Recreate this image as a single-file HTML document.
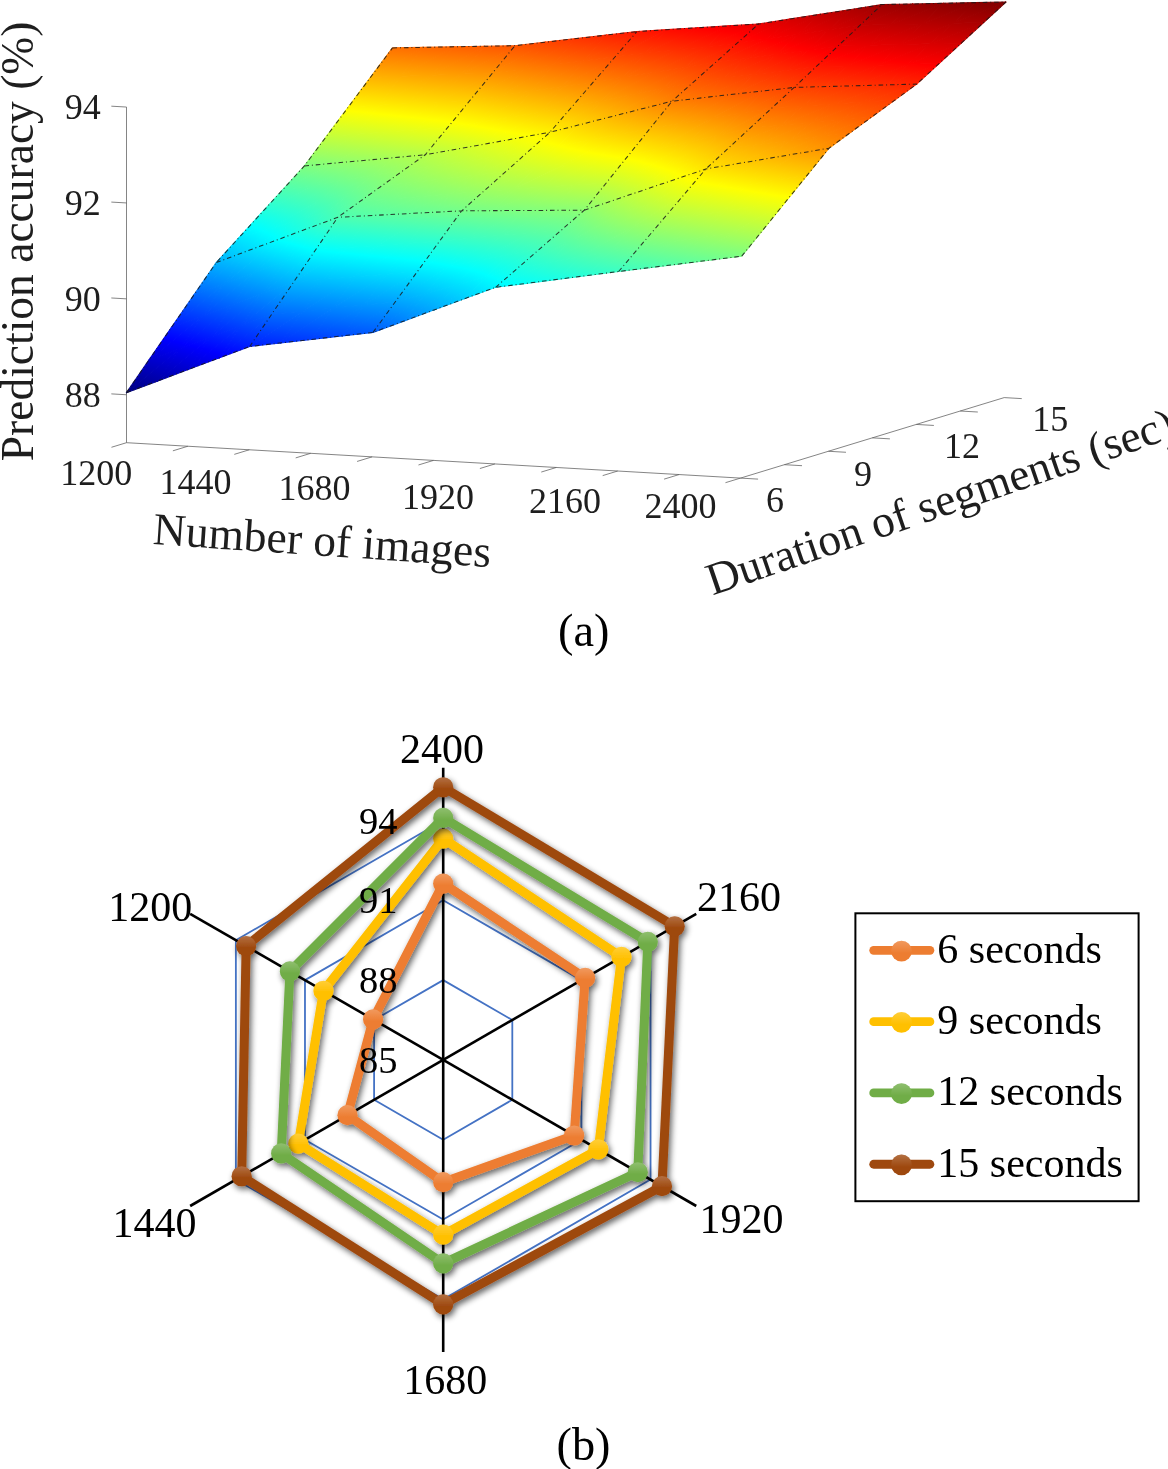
<!DOCTYPE html><html><head><meta charset="utf-8"><style>html,body{margin:0;padding:0;background:#fff;}svg{display:block;will-change:transform;}text{font-family:"Liberation Serif", serif;}</style></head><body>
<domain hidden>Chart</domain>
<svg width="1168" height="1469" viewBox="0 0 1168 1469">
<defs><linearGradient id="J" gradientUnits="userSpaceOnUse"><stop offset="0.0000" stop-color="#000080"/><stop offset="0.1250" stop-color="#0000ff"/><stop offset="0.3750" stop-color="#00ffff"/><stop offset="0.6250" stop-color="#ffff00"/><stop offset="0.8750" stop-color="#ff0000"/><stop offset="1.0000" stop-color="#800000"/></linearGradient><linearGradient id="g1" href="#J" x1="126.4" y1="392.7" x2="257.2" y2="-88.7"/><linearGradient id="g2" href="#J" x1="126.4" y1="392.7" x2="257.2" y2="-88.7"/><linearGradient id="g3" href="#J" x1="139.1" y1="396.1" x2="269.9" y2="-85.3"/><linearGradient id="g4" href="#J" x1="139.1" y1="396.1" x2="269.9" y2="-85.3"/><linearGradient id="g5" href="#J" x1="151.8" y1="399.6" x2="282.6" y2="-81.8"/><linearGradient id="g6" href="#J" x1="151.8" y1="399.6" x2="282.6" y2="-81.8"/><linearGradient id="g7" href="#J" x1="164.5" y1="403.0" x2="295.3" y2="-78.4"/><linearGradient id="g8" href="#J" x1="164.5" y1="403.0" x2="295.3" y2="-78.4"/><linearGradient id="g9" href="#J" x1="152.2" y1="399.7" x2="283.0" y2="-81.7"/><linearGradient id="g10" href="#J" x1="152.2" y1="399.7" x2="283.0" y2="-81.7"/><linearGradient id="g11" href="#J" x1="164.8" y1="403.1" x2="295.6" y2="-78.3"/><linearGradient id="g12" href="#J" x1="164.8" y1="403.1" x2="295.6" y2="-78.3"/><linearGradient id="g13" href="#J" x1="177.4" y1="406.6" x2="308.2" y2="-74.9"/><linearGradient id="g14" href="#J" x1="177.4" y1="406.6" x2="308.2" y2="-74.9"/><linearGradient id="g15" href="#J" x1="190.0" y1="410.0" x2="320.8" y2="-71.5"/><linearGradient id="g16" href="#J" x1="190.0" y1="410.0" x2="320.8" y2="-71.5"/><linearGradient id="g17" href="#J" x1="178.0" y1="406.7" x2="308.8" y2="-74.7"/><linearGradient id="g18" href="#J" x1="178.0" y1="406.7" x2="308.8" y2="-74.7"/><linearGradient id="g19" href="#J" x1="190.5" y1="410.1" x2="321.3" y2="-71.3"/><linearGradient id="g20" href="#J" x1="190.5" y1="410.1" x2="321.3" y2="-71.3"/><linearGradient id="g21" href="#J" x1="203.0" y1="413.5" x2="333.8" y2="-67.9"/><linearGradient id="g22" href="#J" x1="203.0" y1="413.5" x2="333.8" y2="-67.9"/><linearGradient id="g23" href="#J" x1="215.5" y1="416.9" x2="346.3" y2="-64.5"/><linearGradient id="g24" href="#J" x1="215.5" y1="416.9" x2="346.3" y2="-64.5"/><linearGradient id="g25" href="#J" x1="203.7" y1="413.7" x2="334.6" y2="-67.7"/><linearGradient id="g26" href="#J" x1="203.7" y1="413.7" x2="334.6" y2="-67.7"/><linearGradient id="g27" href="#J" x1="216.2" y1="417.1" x2="347.0" y2="-64.4"/><linearGradient id="g28" href="#J" x1="216.2" y1="417.1" x2="347.0" y2="-64.4"/><linearGradient id="g29" href="#J" x1="228.6" y1="420.5" x2="359.4" y2="-61.0"/><linearGradient id="g30" href="#J" x1="228.6" y1="420.5" x2="359.4" y2="-61.0"/><linearGradient id="g31" href="#J" x1="241.0" y1="423.8" x2="371.8" y2="-57.6"/><linearGradient id="g32" href="#J" x1="241.0" y1="423.8" x2="371.8" y2="-57.6"/><linearGradient id="g33" href="#J" x1="240.9" y1="418.6" x2="297.8" y2="-49.3"/><linearGradient id="g34" href="#J" x1="241.6" y1="418.0" x2="294.3" y2="-46.0"/><linearGradient id="g35" href="#J" x1="259.5" y1="420.7" x2="313.1" y2="-45.9"/><linearGradient id="g36" href="#J" x1="260.4" y1="419.8" x2="310.0" y2="-42.9"/><linearGradient id="g37" href="#J" x1="278.5" y1="422.5" x2="328.9" y2="-42.8"/><linearGradient id="g38" href="#J" x1="279.7" y1="421.4" x2="326.2" y2="-40.1"/><linearGradient id="g39" href="#J" x1="298.0" y1="424.2" x2="345.2" y2="-39.8"/><linearGradient id="g40" href="#J" x1="299.4" y1="422.8" x2="343.0" y2="-37.5"/><linearGradient id="g41" href="#J" x1="270.7" y1="422.8" x2="328.7" y2="-48.0"/><linearGradient id="g42" href="#J" x1="271.4" y1="422.1" x2="325.0" y2="-44.5"/><linearGradient id="g43" href="#J" x1="289.4" y1="424.8" x2="343.9" y2="-44.5"/><linearGradient id="g44" href="#J" x1="290.4" y1="423.8" x2="340.7" y2="-41.5"/><linearGradient id="g45" href="#J" x1="308.5" y1="426.7" x2="359.7" y2="-41.3"/><linearGradient id="g46" href="#J" x1="309.8" y1="425.4" x2="357.0" y2="-38.6"/><linearGradient id="g47" href="#J" x1="328.1" y1="428.3" x2="376.1" y2="-38.3"/><linearGradient id="g48" href="#J" x1="329.6" y1="426.8" x2="373.8" y2="-35.9"/><linearGradient id="g49" href="#J" x1="300.4" y1="427.0" x2="359.5" y2="-46.7"/><linearGradient id="g50" href="#J" x1="301.3" y1="426.2" x2="355.8" y2="-43.2"/><linearGradient id="g51" href="#J" x1="319.2" y1="429.0" x2="374.7" y2="-43.2"/><linearGradient id="g52" href="#J" x1="320.3" y1="428.0" x2="371.5" y2="-40.0"/><linearGradient id="g53" href="#J" x1="338.5" y1="430.9" x2="390.6" y2="-39.9"/><linearGradient id="g54" href="#J" x1="339.8" y1="429.5" x2="387.8" y2="-37.1"/><linearGradient id="g55" href="#J" x1="358.2" y1="432.5" x2="407.0" y2="-36.8"/><linearGradient id="g56" href="#J" x1="359.8" y1="430.9" x2="404.6" y2="-34.4"/><linearGradient id="g57" href="#J" x1="330.1" y1="431.3" x2="390.4" y2="-45.4"/><linearGradient id="g58" href="#J" x1="331.1" y1="430.4" x2="386.6" y2="-41.8"/><linearGradient id="g59" href="#J" x1="349.0" y1="433.4" x2="405.6" y2="-41.8"/><linearGradient id="g60" href="#J" x1="350.3" y1="432.2" x2="402.3" y2="-38.6"/><linearGradient id="g61" href="#J" x1="368.4" y1="435.2" x2="421.4" y2="-38.5"/><linearGradient id="g62" href="#J" x1="369.9" y1="433.7" x2="418.6" y2="-35.6"/><linearGradient id="g63" href="#J" x1="388.3" y1="436.9" x2="437.8" y2="-35.3"/><linearGradient id="g64" href="#J" x1="389.9" y1="435.1" x2="435.5" y2="-32.8"/><linearGradient id="g65" href="#J" x1="333.3" y1="444.6" x2="517.7" y2="-76.3"/><linearGradient id="g66" href="#J" x1="349.5" y1="438.2" x2="458.6" y2="-52.9"/><linearGradient id="g67" href="#J" x1="357.6" y1="448.7" x2="489.9" y2="-67.8"/><linearGradient id="g68" href="#J" x1="372.6" y1="439.3" x2="452.1" y2="-44.2"/><linearGradient id="g69" href="#J" x1="384.6" y1="450.2" x2="477.6" y2="-56.4"/><linearGradient id="g70" href="#J" x1="397.6" y1="439.1" x2="453.7" y2="-36.0"/><linearGradient id="g71" href="#J" x1="412.9" y1="449.7" x2="476.1" y2="-45.5"/><linearGradient id="g72" href="#J" x1="423.8" y1="437.6" x2="461.2" y2="-28.8"/><linearGradient id="g73" href="#J" x1="340.9" y1="460.9" x2="588.7" y2="-91.1"/><linearGradient id="g74" href="#J" x1="370.2" y1="451.9" x2="502.4" y2="-64.6"/><linearGradient id="g75" href="#J" x1="372.6" y1="466.5" x2="542.3" y2="-84.9"/><linearGradient id="g76" href="#J" x1="396.6" y1="452.5" x2="489.7" y2="-54.2"/><linearGradient id="g77" href="#J" x1="405.4" y1="467.5" x2="519.2" y2="-71.2"/><linearGradient id="g78" href="#J" x1="424.3" y1="451.2" x2="487.6" y2="-44.0"/><linearGradient id="g79" href="#J" x1="438.1" y1="465.5" x2="511.8" y2="-57.2"/><linearGradient id="g80" href="#J" x1="452.6" y1="448.5" x2="493.0" y2="-35.1"/><linearGradient id="g81" href="#J" x1="327.4" y1="478.7" x2="694.8" y2="-101.6"/><linearGradient id="g82" href="#J" x1="384.9" y1="470.3" x2="554.6" y2="-81.1"/><linearGradient id="g83" href="#J" x1="375.0" y1="491.1" x2="612.3" y2="-109.1"/><linearGradient id="g84" href="#J" x1="417.4" y1="470.0" x2="531.2" y2="-68.7"/><linearGradient id="g85" href="#J" x1="419.7" y1="492.0" x2="568.6" y2="-93.7"/><linearGradient id="g86" href="#J" x1="449.5" y1="467.1" x2="523.2" y2="-55.6"/><linearGradient id="g87" href="#J" x1="460.4" y1="487.4" x2="550.6" y2="-74.9"/><linearGradient id="g88" href="#J" x1="480.9" y1="462.5" x2="525.3" y2="-44.2"/><linearGradient id="g89" href="#J" x1="264.9" y1="473.3" x2="873.4" y2="-58.3"/><linearGradient id="g90" href="#J" x1="386.9" y1="495.9" x2="624.3" y2="-104.4"/><linearGradient id="g91" href="#J" x1="344.4" y1="523.3" x2="726.9" y2="-138.2"/><linearGradient id="g92" href="#J" x1="431.6" y1="495.0" x2="580.4" y2="-90.7"/><linearGradient id="g93" href="#J" x1="418.3" y1="529.8" x2="636.2" y2="-129.7"/><linearGradient id="g94" href="#J" x1="471.7" y1="489.2" x2="561.8" y2="-73.0"/><linearGradient id="g95" href="#J" x1="476.3" y1="520.6" x2="595.8" y2="-103.3"/><linearGradient id="g96" href="#J" x1="508.2" y1="481.2" x2="558.6" y2="-57.4"/><linearGradient id="g97" href="#J" x1="450.8" y1="505.3" x2="573.0" y2="-89.7"/><linearGradient id="g98" href="#J" x1="418.6" y1="528.3" x2="628.7" y2="-129.4"/><linearGradient id="g99" href="#J" x1="450.9" y1="514.1" x2="616.9" y2="-96.8"/><linearGradient id="g100" href="#J" x1="399.6" y1="537.5" x2="692.9" y2="-131.4"/><linearGradient id="g101" href="#J" x1="441.9" y1="522.2" x2="665.2" y2="-100.5"/><linearGradient id="g102" href="#J" x1="362.5" y1="537.1" x2="766.6" y2="-119.6"/><linearGradient id="g103" href="#J" x1="420.4" y1="526.4" x2="718.5" y2="-98.0"/><linearGradient id="g104" href="#J" x1="306.2" y1="512.3" x2="844.4" y2="-82.5"/><linearGradient id="g105" href="#J" x1="486.5" y1="498.9" x2="590.6" y2="-64.0"/><linearGradient id="g106" href="#J" x1="462.8" y1="517.3" x2="628.8" y2="-93.5"/><linearGradient id="g107" href="#J" x1="490.2" y1="506.4" x2="627.6" y2="-68.9"/><linearGradient id="g108" href="#J" x1="453.7" y1="526.5" x2="677.1" y2="-96.2"/><linearGradient id="g109" href="#J" x1="487.0" y1="514.0" x2="666.6" y2="-71.8"/><linearGradient id="g110" href="#J" x1="431.9" y1="531.9" x2="730.0" y2="-92.5"/><linearGradient id="g111" href="#J" x1="474.7" y1="519.9" x2="707.7" y2="-71.4"/><linearGradient id="g112" href="#J" x1="394.1" y1="526.6" x2="786.5" y2="-78.0"/><linearGradient id="g113" href="#J" x1="520.7" y1="494.3" x2="611.8" y2="-43.6"/><linearGradient id="g114" href="#J" x1="502.2" y1="509.3" x2="639.6" y2="-66.1"/><linearGradient id="g115" href="#J" x1="526.7" y1="500.8" x2="644.3" y2="-47.1"/><linearGradient id="g116" href="#J" x1="499.2" y1="517.7" x2="678.7" y2="-68.1"/><linearGradient id="g117" href="#J" x1="527.4" y1="507.6" x2="677.6" y2="-49.0"/><linearGradient id="g118" href="#J" x1="486.8" y1="524.6" x2="719.8" y2="-66.7"/><linearGradient id="g119" href="#J" x1="521.0" y1="513.8" x2="711.4" y2="-48.9"/><linearGradient id="g120" href="#J" x1="462.2" y1="526.5" x2="762.2" y2="-59.9"/><linearGradient id="g121" href="#J" x1="554.0" y1="491.0" x2="635.4" y2="-27.0"/><linearGradient id="g122" href="#J" x1="538.9" y1="503.4" x2="656.5" y2="-44.5"/><linearGradient id="g123" href="#J" x1="561.6" y1="496.7" x2="664.8" y2="-29.4"/><linearGradient id="g124" href="#J" x1="539.7" y1="510.9" x2="689.9" y2="-45.7"/><linearGradient id="g125" href="#J" x1="564.9" y1="502.8" x2="694.2" y2="-30.6"/><linearGradient id="g126" href="#J" x1="533.3" y1="517.9" x2="723.7" y2="-44.8"/><linearGradient id="g127" href="#J" x1="562.4" y1="508.7" x2="723.3" y2="-30.3"/><linearGradient id="g128" href="#J" x1="517.6" y1="522.4" x2="757.5" y2="-40.8"/><linearGradient id="g129" href="#J" x1="584.8" y1="493.7" x2="662.9" y2="-19.9"/><linearGradient id="g130" href="#J" x1="582.2" y1="496.1" x2="666.3" y2="-23.0"/><linearGradient id="g131" href="#J" x1="600.3" y1="497.0" x2="682.5" y2="-18.3"/><linearGradient id="g132" href="#J" x1="597.3" y1="499.7" x2="685.7" y2="-21.1"/><linearGradient id="g133" href="#J" x1="615.3" y1="500.5" x2="701.8" y2="-16.5"/><linearGradient id="g134" href="#J" x1="611.8" y1="503.5" x2="704.8" y2="-19.0"/><linearGradient id="g135" href="#J" x1="629.8" y1="504.1" x2="720.6" y2="-14.4"/><linearGradient id="g136" href="#J" x1="625.7" y1="507.5" x2="723.4" y2="-16.7"/><linearGradient id="g137" href="#J" x1="615.0" y1="496.6" x2="691.6" y2="-13.5"/><linearGradient id="g138" href="#J" x1="612.5" y1="498.9" x2="694.7" y2="-16.3"/><linearGradient id="g139" href="#J" x1="630.6" y1="499.9" x2="711.1" y2="-11.8"/><linearGradient id="g140" href="#J" x1="627.6" y1="502.5" x2="714.0" y2="-14.4"/><linearGradient id="g141" href="#J" x1="645.6" y1="503.3" x2="730.2" y2="-10.0"/><linearGradient id="g142" href="#J" x1="642.1" y1="506.3" x2="732.9" y2="-12.3"/><linearGradient id="g143" href="#J" x1="660.1" y1="506.9" x2="748.9" y2="-7.9"/><linearGradient id="g144" href="#J" x1="656.1" y1="510.2" x2="751.4" y2="-10.0"/><linearGradient id="g145" href="#J" x1="645.3" y1="499.5" x2="720.3" y2="-7.2"/><linearGradient id="g146" href="#J" x1="642.7" y1="501.8" x2="723.2" y2="-9.9"/><linearGradient id="g147" href="#J" x1="660.8" y1="502.7" x2="739.7" y2="-5.5"/><linearGradient id="g148" href="#J" x1="657.9" y1="505.3" x2="742.4" y2="-7.9"/><linearGradient id="g149" href="#J" x1="675.9" y1="506.1" x2="758.7" y2="-3.7"/><linearGradient id="g150" href="#J" x1="672.4" y1="509.0" x2="761.2" y2="-5.8"/><linearGradient id="g151" href="#J" x1="690.4" y1="509.7" x2="777.3" y2="-1.6"/><linearGradient id="g152" href="#J" x1="686.4" y1="512.9" x2="779.6" y2="-3.5"/><linearGradient id="g153" href="#J" x1="675.5" y1="502.3" x2="749.1" y2="-1.2"/><linearGradient id="g154" href="#J" x1="673.0" y1="504.6" x2="751.8" y2="-3.6"/><linearGradient id="g155" href="#J" x1="691.1" y1="505.5" x2="768.4" y2="0.6"/><linearGradient id="g156" href="#J" x1="688.1" y1="508.1" x2="770.9" y2="-1.7"/><linearGradient id="g157" href="#J" x1="706.2" y1="508.8" x2="787.3" y2="2.5"/><linearGradient id="g158" href="#J" x1="702.8" y1="511.8" x2="789.6" y2="0.5"/><linearGradient id="g159" href="#J" x1="720.8" y1="512.4" x2="805.8" y2="4.5"/><linearGradient id="g160" href="#J" x1="716.8" y1="515.6" x2="807.8" y2="2.8"/><linearGradient id="g161" href="#J" x1="104.9" y1="435.0" x2="477.4" y2="-141.8"/><linearGradient id="g162" href="#J" x1="155.4" y1="430.8" x2="359.0" y2="-131.9"/><linearGradient id="g163" href="#J" x1="144.4" y1="447.8" x2="413.2" y2="-151.3"/><linearGradient id="g164" href="#J" x1="186.0" y1="432.6" x2="335.6" y2="-123.1"/><linearGradient id="g165" href="#J" x1="184.4" y1="452.1" x2="374.2" y2="-142.7"/><linearGradient id="g166" href="#J" x1="217.1" y1="431.7" x2="325.2" y2="-112.1"/><linearGradient id="g167" href="#J" x1="223.0" y1="451.3" x2="354.8" y2="-128.6"/><linearGradient id="g168" href="#J" x1="248.0" y1="429.0" x2="324.3" y2="-101.4"/><linearGradient id="g169" href="#J" x1="64.2" y1="438.0" x2="605.9" y2="-116.4"/><linearGradient id="g170" href="#J" x1="156.1" y1="453.0" x2="424.9" y2="-146.0"/><linearGradient id="g171" href="#J" x1="121.8" y1="471.8" x2="507.1" y2="-164.7"/><linearGradient id="g172" href="#J" x1="196.3" y1="455.9" x2="386.1" y2="-138.9"/><linearGradient id="g173" href="#J" x1="180.3" y1="482.9" x2="439.6" y2="-165.1"/><linearGradient id="g174" href="#J" x1="234.6" y1="453.9" x2="366.3" y2="-126.0"/><linearGradient id="g175" href="#J" x1="232.5" y1="481.5" x2="403.0" y2="-149.3"/><linearGradient id="g176" href="#J" x1="270.7" y1="449.0" x2="359.9" y2="-112.7"/><linearGradient id="g177" href="#J" x1="-13.8" y1="373.9" x2="762.3" y2="16.2"/><linearGradient id="g178" href="#J" x1="132.7" y1="478.4" x2="518.0" y2="-158.1"/><linearGradient id="g179" href="#J" x1="47.0" y1="479.2" x2="657.3" y2="-148.6"/><linearGradient id="g180" href="#J" x1="191.9" y1="487.5" x2="451.2" y2="-160.4"/><linearGradient id="g181" href="#J" x1="142.0" y1="522.7" x2="538.7" y2="-192.6"/><linearGradient id="g182" href="#J" x1="244.1" y1="484.7" x2="414.5" y2="-146.2"/><linearGradient id="g183" href="#J" x1="224.5" y1="526.1" x2="466.5" y2="-181.0"/><linearGradient id="g184" href="#J" x1="289.4" y1="476.4" x2="398.7" y2="-129.1"/><linearGradient id="g185" href="#J" x1="-0.1" y1="184.8" x2="745.4" y2="291.0"/><linearGradient id="g186" href="#J" x1="55.6" y1="487.6" x2="666.0" y2="-140.3"/><linearGradient id="g187" href="#J" x1="-89.9" y1="358.7" x2="853.2" y2="26.1"/><linearGradient id="g188" href="#J" x1="153.0" y1="528.8" x2="549.7" y2="-186.5"/><linearGradient id="g189" href="#J" x1="12.5" y1="544.2" x2="723.3" y2="-192.7"/><linearGradient id="g190" href="#J" x1="235.9" y1="530.0" x2="477.9" y2="-177.1"/><linearGradient id="g191" href="#J" x1="168.4" y1="593.8" x2="571.0" y2="-229.2"/><linearGradient id="g192" href="#J" x1="300.2" y1="516.6" x2="443.6" y2="-154.6"/><linearGradient id="g193" href="#J" x1="283.9" y1="528.4" x2="403.6" y2="-162.4"/><linearGradient id="g194" href="#J" x1="250.9" y1="563.9" x2="443.8" y2="-205.7"/><linearGradient id="g195" href="#J" x1="284.0" y1="541.6" x2="442.8" y2="-172.3"/><linearGradient id="g196" href="#J" x1="235.7" y1="581.2" x2="496.0" y2="-215.9"/><linearGradient id="g197" href="#J" x1="277.0" y1="555.7" x2="485.2" y2="-180.7"/><linearGradient id="g198" href="#J" x1="206.7" y1="596.6" x2="555.0" y2="-221.3"/><linearGradient id="g199" href="#J" x1="260.3" y1="569.3" x2="531.3" y2="-186.5"/><linearGradient id="g200" href="#J" x1="159.6" y1="604.2" x2="621.4" y2="-217.7"/><linearGradient id="g201" href="#J" x1="320.8" y1="515.9" x2="425.0" y2="-136.4"/><linearGradient id="g202" href="#J" x1="295.7" y1="544.2" x2="454.5" y2="-169.7"/><linearGradient id="g203" href="#J" x1="324.6" y1="527.0" x2="459.8" y2="-143.8"/><linearGradient id="g204" href="#J" x1="288.9" y1="559.0" x2="497.1" y2="-177.3"/><linearGradient id="g205" href="#J" x1="322.9" y1="539.1" x2="496.2" y2="-150.0"/><linearGradient id="g206" href="#J" x1="272.3" y1="573.6" x2="543.3" y2="-182.2"/><linearGradient id="g207" href="#J" x1="314.1" y1="551.5" x2="534.4" y2="-154.6"/><linearGradient id="g208" href="#J" x1="243.1" y1="585.2" x2="593.4" y2="-182.6"/><linearGradient id="g209" href="#J" x1="356.2" y1="506.1" x2="448.8" y2="-115.3"/><linearGradient id="g210" href="#J" x1="336.2" y1="529.3" x2="471.4" y2="-141.4"/><linearGradient id="g211" href="#J" x1="362.6" y1="515.7" x2="480.5" y2="-120.8"/><linearGradient id="g212" href="#J" x1="334.8" y1="542.1" x2="508.0" y2="-147.0"/><linearGradient id="g213" href="#J" x1="364.6" y1="526.2" x2="512.9" y2="-125.4"/><linearGradient id="g214" href="#J" x1="326.2" y1="555.3" x2="546.5" y2="-150.8"/><linearGradient id="g215" href="#J" x1="361.0" y1="537.3" x2="546.2" y2="-128.7"/><linearGradient id="g216" href="#J" x1="308.3" y1="567.4" x2="586.8" y2="-151.8"/><linearGradient id="g217" href="#J" x1="390.6" y1="498.5" x2="474.2" y2="-97.7"/><linearGradient id="g218" href="#J" x1="374.1" y1="517.8" x2="492.1" y2="-118.7"/><linearGradient id="g219" href="#J" x1="398.8" y1="506.8" x2="503.7" y2="-101.8"/><linearGradient id="g220" href="#J" x1="376.4" y1="528.9" x2="524.8" y2="-122.7"/><linearGradient id="g221" href="#J" x1="403.4" y1="516.1" x2="533.3" y2="-105.1"/><linearGradient id="g222" href="#J" x1="373.1" y1="540.7" x2="558.3" y2="-125.3"/><linearGradient id="g223" href="#J" x1="403.6" y1="526.1" x2="563.2" y2="-107.4"/><linearGradient id="g224" href="#J" x1="362.7" y1="552.3" x2="592.4" y2="-126.2"/><linearGradient id="g225" href="#J" x1="436.3" y1="478.1" x2="488.1" y2="-67.8"/><linearGradient id="g226" href="#J" x1="415.7" y1="505.8" x2="509.7" y2="-96.7"/><linearGradient id="g227" href="#J" x1="442.1" y1="487.9" x2="521.1" y2="-75.1"/><linearGradient id="g228" href="#J" x1="408.3" y1="521.7" x2="551.4" y2="-105.4"/><linearGradient id="g229" href="#J" x1="441.0" y1="499.4" x2="555.8" y2="-81.4"/><linearGradient id="g230" href="#J" x1="385.9" y1="537.7" x2="598.4" y2="-111.0"/><linearGradient id="g231" href="#J" x1="430.0" y1="511.5" x2="592.6" y2="-86.0"/><linearGradient id="g232" href="#J" x1="340.9" y1="547.4" x2="651.6" y2="-109.8"/><linearGradient id="g233" href="#J" x1="469.1" y1="468.6" x2="516.1" y2="-52.3"/><linearGradient id="g234" href="#J" x1="453.2" y1="489.5" x2="532.3" y2="-73.5"/><linearGradient id="g235" href="#J" x1="477.3" y1="476.4" x2="546.2" y2="-57.5"/><linearGradient id="g236" href="#J" x1="452.6" y1="501.7" x2="567.4" y2="-79.2"/><linearGradient id="g237" href="#J" x1="480.3" y1="485.6" x2="576.9" y2="-61.7"/><linearGradient id="g238" href="#J" x1="441.9" y1="514.7" x2="604.5" y2="-82.8"/><linearGradient id="g239" href="#J" x1="476.1" y1="495.5" x2="608.0" y2="-64.6"/><linearGradient id="g240" href="#J" x1="416.9" y1="525.9" x2="643.7" y2="-82.9"/><linearGradient id="g241" href="#J" x1="501.2" y1="461.7" x2="544.7" y2="-39.9"/><linearGradient id="g242" href="#J" x1="488.5" y1="477.9" x2="557.4" y2="-56.1"/><linearGradient id="g243" href="#J" x1="511.1" y1="468.1" x2="572.8" y2="-43.6"/><linearGradient id="g244" href="#J" x1="491.9" y1="487.6" x2="588.5" y2="-59.7"/><linearGradient id="g245" href="#J" x1="516.8" y1="475.6" x2="600.8" y2="-46.4"/><linearGradient id="g246" href="#J" x1="488.1" y1="498.3" x2="620.1" y2="-61.8"/><linearGradient id="g247" href="#J" x1="516.9" y1="483.9" x2="628.5" y2="-48.1"/><linearGradient id="g248" href="#J" x1="474.3" y1="508.6" x2="651.8" y2="-61.7"/><linearGradient id="g249" href="#J" x1="533.0" y1="456.4" x2="573.8" y2="-29.6"/><linearGradient id="g250" href="#J" x1="522.4" y1="469.4" x2="584.1" y2="-42.2"/><linearGradient id="g251" href="#J" x1="544.1" y1="461.8" x2="600.3" y2="-32.2"/><linearGradient id="g252" href="#J" x1="528.6" y1="477.5" x2="612.5" y2="-44.5"/><linearGradient id="g253" href="#J" x1="551.6" y1="468.1" x2="626.4" y2="-34.1"/><linearGradient id="g254" href="#J" x1="529.1" y1="486.4" x2="640.6" y2="-45.6"/><linearGradient id="g255" href="#J" x1="554.6" y1="475.2" x2="651.8" y2="-35.0"/><linearGradient id="g256" href="#J" x1="522.0" y1="495.5" x2="668.0" y2="-45.1"/><linearGradient id="g257" href="#J" x1="480.6" y1="488.4" x2="683.1" y2="-55.1"/><linearGradient id="g258" href="#J" x1="513.5" y1="476.3" x2="651.8" y2="-43.5"/><linearGradient id="g259" href="#J" x1="514.2" y1="491.9" x2="675.3" y2="-48.9"/><linearGradient id="g260" href="#J" x1="542.7" y1="476.7" x2="653.9" y2="-37.5"/><linearGradient id="g261" href="#J" x1="547.9" y1="492.8" x2="675.1" y2="-41.6"/><linearGradient id="g262" href="#J" x1="572.3" y1="475.7" x2="660.9" y2="-31.7"/><linearGradient id="g263" href="#J" x1="581.4" y1="491.6" x2="680.9" y2="-34.6"/><linearGradient id="g264" href="#J" x1="602.1" y1="473.6" x2="671.6" y2="-26.5"/><linearGradient id="g265" href="#J" x1="479.0" y1="509.9" x2="727.1" y2="-57.0"/><linearGradient id="g266" href="#J" x1="526.6" y1="495.6" x2="687.7" y2="-45.2"/><linearGradient id="g267" href="#J" x1="520.5" y1="515.1" x2="713.7" y2="-51.6"/><linearGradient id="g268" href="#J" x1="560.2" y1="495.7" x2="687.4" y2="-38.7"/><linearGradient id="g269" href="#J" x1="560.7" y1="515.9" x2="710.0" y2="-43.9"/><linearGradient id="g270" href="#J" x1="593.4" y1="493.9" x2="692.9" y2="-32.3"/><linearGradient id="g271" href="#J" x1="599.4" y1="513.7" x2="713.7" y2="-36.0"/><linearGradient id="g272" href="#J" x1="626.1" y1="490.6" x2="702.8" y2="-26.6"/><linearGradient id="g273" href="#J" x1="460.4" y1="533.6" x2="777.8" y2="-57.7"/><linearGradient id="g274" href="#J" x1="532.7" y1="519.3" x2="725.9" y2="-47.4"/><linearGradient id="g275" href="#J" x1="514.9" y1="543.5" x2="756.0" y2="-54.9"/><linearGradient id="g276" href="#J" x1="572.8" y1="519.1" x2="722.1" y2="-40.6"/><linearGradient id="g277" href="#J" x1="565.7" y1="545.0" x2="746.9" y2="-47.1"/><linearGradient id="g278" href="#J" x1="611.3" y1="516.2" x2="725.5" y2="-33.5"/><linearGradient id="g279" href="#J" x1="612.5" y1="541.6" x2="747.5" y2="-38.3"/><linearGradient id="g280" href="#J" x1="648.1" y1="511.3" x2="734.3" y2="-27.1"/><linearGradient id="g281" href="#J" x1="411.6" y1="553.4" x2="839.5" y2="-53.2"/><linearGradient id="g282" href="#J" x1="526.8" y1="548.3" x2="767.8" y2="-50.1"/><linearGradient id="g283" href="#J" x1="487.7" y1="577.1" x2="805.0" y2="-58.0"/><linearGradient id="g284" href="#J" x1="577.7" y1="548.7" x2="758.9" y2="-43.4"/><linearGradient id="g285" href="#J" x1="556.8" y1="582.5" x2="787.4" y2="-51.4"/><linearGradient id="g286" href="#J" x1="624.3" y1="544.3" x2="759.2" y2="-35.5"/><linearGradient id="g287" href="#J" x1="617.2" y1="578.0" x2="783.0" y2="-41.8"/><linearGradient id="g288" href="#J" x1="667.2" y1="537.3" x2="766.3" y2="-28.2"/><linearGradient id="g289" href="#J" x1="580.7" y1="593.4" x2="772.7" y2="-58.0"/><linearGradient id="g290" href="#J" x1="619.2" y1="565.0" x2="752.1" y2="-42.8"/><linearGradient id="g291" href="#J" x1="622.4" y1="589.5" x2="775.0" y2="-48.4"/><linearGradient id="g292" href="#J" x1="654.2" y1="560.3" x2="760.8" y2="-35.3"/><linearGradient id="g293" href="#J" x1="662.0" y1="583.7" x2="782.4" y2="-39.6"/><linearGradient id="g294" href="#J" x1="688.3" y1="554.6" x2="772.7" y2="-28.9"/><linearGradient id="g295" href="#J" x1="699.8" y1="576.6" x2="793.6" y2="-31.9"/><linearGradient id="g296" href="#J" x1="721.4" y1="548.1" x2="787.2" y2="-23.4"/><linearGradient id="g297" href="#J" x1="581.5" y1="627.9" x2="812.4" y2="-63.0"/><linearGradient id="g298" href="#J" x1="634.0" y1="592.3" x2="786.7" y2="-45.6"/><linearGradient id="g299" href="#J" x1="631.3" y1="622.8" x2="811.1" y2="-52.6"/><linearGradient id="g300" href="#J" x1="673.4" y1="585.9" x2="793.8" y2="-37.4"/><linearGradient id="g301" href="#J" x1="677.2" y1="614.8" x2="816.2" y2="-42.7"/><linearGradient id="g302" href="#J" x1="710.8" y1="578.3" x2="804.7" y2="-30.2"/><linearGradient id="g303" href="#J" x1="719.8" y1="605.3" x2="826.0" y2="-34.1"/><linearGradient id="g304" href="#J" x1="746.7" y1="569.9" x2="818.5" y2="-24.2"/><linearGradient id="g305" href="#J" x1="568.2" y1="670.6" x2="856.1" y2="-69.4"/><linearGradient id="g306" href="#J" x1="643.0" y1="625.9" x2="822.8" y2="-49.5"/><linearGradient id="g307" href="#J" x1="630.7" y1="664.6" x2="849.5" y2="-58.2"/><linearGradient id="g308" href="#J" x1="688.6" y1="617.2" x2="827.6" y2="-40.3"/><linearGradient id="g309" href="#J" x1="686.3" y1="653.9" x2="851.3" y2="-47.1"/><linearGradient id="g310" href="#J" x1="730.9" y1="607.1" x2="837.1" y2="-32.2"/><linearGradient id="g311" href="#J" x1="736.1" y1="640.9" x2="859.0" y2="-37.3"/><linearGradient id="g312" href="#J" x1="770.5" y1="596.1" x2="850.0" y2="-25.5"/><linearGradient id="g313" href="#J" x1="529.6" y1="723.1" x2="906.8" y2="-76.9"/><linearGradient id="g314" href="#J" x1="642.4" y1="668.1" x2="861.2" y2="-54.7"/><linearGradient id="g315" href="#J" x1="613.8" y1="718.3" x2="891.8" y2="-65.9"/><linearGradient id="g316" href="#J" x1="697.7" y1="656.6" x2="862.7" y2="-44.5"/><linearGradient id="g317" href="#J" x1="685.3" y1="704.5" x2="888.4" y2="-53.4"/><linearGradient id="g318" href="#J" x1="747.2" y1="642.9" x2="870.1" y2="-35.2"/><linearGradient id="g319" href="#J" x1="746.4" y1="686.7" x2="893.1" y2="-41.9"/><linearGradient id="g320" href="#J" x1="792.1" y1="628.3" x2="881.8" y2="-27.5"/><linearGradient id="g321" href="#J" x1="274.7" y1="408.7" x2="334.0" y2="-76.0"/><linearGradient id="g322" href="#J" x1="277.7" y1="405.6" x2="331.0" y2="-72.9"/><linearGradient id="g323" href="#J" x1="295.5" y1="410.0" x2="350.0" y2="-72.6"/><linearGradient id="g324" href="#J" x1="298.7" y1="406.6" x2="347.6" y2="-70.0"/><linearGradient id="g325" href="#J" x1="316.9" y1="410.9" x2="366.8" y2="-69.5"/><linearGradient id="g326" href="#J" x1="320.1" y1="407.3" x2="364.9" y2="-67.3"/><linearGradient id="g327" href="#J" x1="338.6" y1="411.7" x2="384.2" y2="-66.7"/><linearGradient id="g328" href="#J" x1="341.9" y1="407.7" x2="382.8" y2="-65.0"/><linearGradient id="g329" href="#J" x1="303.3" y1="414.6" x2="364.2" y2="-74.5"/><linearGradient id="g330" href="#J" x1="306.6" y1="411.2" x2="361.1" y2="-71.3"/><linearGradient id="g331" href="#J" x1="324.5" y1="415.8" x2="380.2" y2="-71.0"/><linearGradient id="g332" href="#J" x1="327.9" y1="412.1" x2="377.8" y2="-68.3"/><linearGradient id="g333" href="#J" x1="346.1" y1="416.7" x2="397.1" y2="-67.8"/><linearGradient id="g334" href="#J" x1="349.5" y1="412.7" x2="395.2" y2="-65.6"/><linearGradient id="g335" href="#J" x1="368.1" y1="417.3" x2="414.6" y2="-64.9"/><linearGradient id="g336" href="#J" x1="371.6" y1="413.1" x2="413.2" y2="-63.2"/><linearGradient id="g337" href="#J" x1="331.9" y1="420.7" x2="394.3" y2="-73.0"/><linearGradient id="g338" href="#J" x1="335.4" y1="417.0" x2="391.2" y2="-69.8"/><linearGradient id="g339" href="#J" x1="353.3" y1="421.8" x2="410.5" y2="-69.5"/><linearGradient id="g340" href="#J" x1="356.9" y1="417.8" x2="408.0" y2="-66.7"/><linearGradient id="g341" href="#J" x1="375.2" y1="422.6" x2="427.4" y2="-66.2"/><linearGradient id="g342" href="#J" x1="378.9" y1="418.4" x2="425.4" y2="-63.9"/><linearGradient id="g343" href="#J" x1="397.5" y1="423.2" x2="445.0" y2="-63.2"/><linearGradient id="g344" href="#J" x1="401.3" y1="418.6" x2="443.5" y2="-61.4"/><linearGradient id="g345" href="#J" x1="360.3" y1="427.1" x2="424.5" y2="-71.6"/><linearGradient id="g346" href="#J" x1="364.1" y1="423.1" x2="421.3" y2="-68.2"/><linearGradient id="g347" href="#J" x1="382.0" y1="428.1" x2="440.7" y2="-67.9"/><linearGradient id="g348" href="#J" x1="385.9" y1="423.8" x2="438.1" y2="-65.0"/><linearGradient id="g349" href="#J" x1="404.3" y1="428.9" x2="457.7" y2="-64.5"/><linearGradient id="g350" href="#J" x1="408.2" y1="424.2" x2="455.7" y2="-62.2"/><linearGradient id="g351" href="#J" x1="426.9" y1="429.3" x2="475.4" y2="-61.5"/><linearGradient id="g352" href="#J" x1="430.9" y1="424.4" x2="473.9" y2="-59.6"/><linearGradient id="g353" href="#J" x1="372.5" y1="439.7" x2="467.7" y2="-75.0"/><linearGradient id="g354" href="#J" x1="377.2" y1="436.0" x2="463.9" y2="-72.0"/><linearGradient id="g355" href="#J" x1="392.9" y1="441.8" x2="482.2" y2="-70.8"/><linearGradient id="g356" href="#J" x1="397.8" y1="437.7" x2="479.1" y2="-68.2"/><linearGradient id="g357" href="#J" x1="413.8" y1="443.6" x2="497.5" y2="-66.9"/><linearGradient id="g358" href="#J" x1="418.8" y1="439.1" x2="495.0" y2="-64.7"/><linearGradient id="g359" href="#J" x1="435.2" y1="445.1" x2="513.5" y2="-63.2"/><linearGradient id="g360" href="#J" x1="440.4" y1="440.3" x2="511.6" y2="-61.4"/><linearGradient id="g361" href="#J" x1="399.9" y1="448.0" x2="498.1" y2="-71.7"/><linearGradient id="g362" href="#J" x1="405.0" y1="443.9" x2="494.3" y2="-68.7"/><linearGradient id="g363" href="#J" x1="420.4" y1="450.0" x2="512.5" y2="-67.5"/><linearGradient id="g364" href="#J" x1="425.7" y1="445.5" x2="509.4" y2="-64.9"/><linearGradient id="g365" href="#J" x1="441.4" y1="451.8" x2="527.6" y2="-63.6"/><linearGradient id="g366" href="#J" x1="446.8" y1="446.9" x2="525.1" y2="-61.4"/><linearGradient id="g367" href="#J" x1="462.9" y1="453.2" x2="543.4" y2="-59.9"/><linearGradient id="g368" href="#J" x1="468.5" y1="448.0" x2="541.6" y2="-58.1"/><linearGradient id="g369" href="#J" x1="427.0" y1="456.7" x2="528.5" y2="-68.4"/><linearGradient id="g370" href="#J" x1="432.6" y1="452.2" x2="524.7" y2="-65.4"/><linearGradient id="g371" href="#J" x1="447.6" y1="458.6" x2="542.7" y2="-64.2"/><linearGradient id="g372" href="#J" x1="453.4" y1="453.8" x2="539.6" y2="-61.6"/><linearGradient id="g373" href="#J" x1="468.7" y1="460.3" x2="557.6" y2="-60.2"/><linearGradient id="g374" href="#J" x1="474.7" y1="455.1" x2="555.2" y2="-58.0"/><linearGradient id="g375" href="#J" x1="490.4" y1="461.7" x2="573.3" y2="-56.5"/><linearGradient id="g376" href="#J" x1="496.4" y1="456.0" x2="571.5" y2="-54.7"/><linearGradient id="g377" href="#J" x1="453.7" y1="465.8" x2="558.9" y2="-65.0"/><linearGradient id="g378" href="#J" x1="460.0" y1="460.9" x2="555.1" y2="-61.9"/><linearGradient id="g379" href="#J" x1="474.5" y1="467.7" x2="572.9" y2="-60.7"/><linearGradient id="g380" href="#J" x1="480.9" y1="462.4" x2="569.8" y2="-58.1"/><linearGradient id="g381" href="#J" x1="495.8" y1="469.3" x2="587.6" y2="-56.7"/><linearGradient id="g382" href="#J" x1="502.3" y1="463.6" x2="585.2" y2="-54.6"/><linearGradient id="g383" href="#J" x1="517.6" y1="470.6" x2="603.1" y2="-52.9"/><linearGradient id="g384" href="#J" x1="524.1" y1="464.5" x2="601.3" y2="-51.3"/><linearGradient id="g385" href="#J" x1="441.1" y1="492.6" x2="611.3" y2="-71.1"/><linearGradient id="g386" href="#J" x1="473.3" y1="474.4" x2="593.1" y2="-60.8"/><linearGradient id="g387" href="#J" x1="477.1" y1="492.7" x2="613.6" y2="-64.0"/><linearGradient id="g388" href="#J" x1="504.6" y1="472.7" x2="601.4" y2="-55.1"/><linearGradient id="g389" href="#J" x1="512.4" y1="490.7" x2="621.0" y2="-57.2"/><linearGradient id="g390" href="#J" x1="535.8" y1="469.9" x2="613.1" y2="-50.1"/><linearGradient id="g391" href="#J" x1="547.0" y1="487.2" x2="632.3" y2="-51.1"/><linearGradient id="g392" href="#J" x1="566.7" y1="466.1" x2="627.4" y2="-45.9"/><linearGradient id="g393" href="#J" x1="445.4" y1="518.5" x2="647.9" y2="-72.4"/><linearGradient id="g394" href="#J" x1="489.4" y1="495.7" x2="625.9" y2="-61.0"/><linearGradient id="g395" href="#J" x1="488.0" y1="518.4" x2="647.4" y2="-64.8"/><linearGradient id="g396" href="#J" x1="524.4" y1="493.1" x2="633.0" y2="-54.8"/><linearGradient id="g397" href="#J" x1="528.7" y1="515.3" x2="653.1" y2="-57.4"/><linearGradient id="g398" href="#J" x1="558.6" y1="489.0" x2="644.0" y2="-49.3"/><linearGradient id="g399" href="#J" x1="567.5" y1="510.2" x2="663.4" y2="-50.7"/><linearGradient id="g400" href="#J" x1="592.0" y1="483.9" x2="657.9" y2="-44.7"/><linearGradient id="g401" href="#J" x1="437.8" y1="549.8" x2="687.2" y2="-73.9"/><linearGradient id="g402" href="#J" x1="500.3" y1="521.7" x2="659.7" y2="-61.5"/><linearGradient id="g403" href="#J" x1="490.8" y1="550.3" x2="682.7" y2="-66.2"/><linearGradient id="g404" href="#J" x1="540.7" y1="517.9" x2="665.1" y2="-54.7"/><linearGradient id="g405" href="#J" x1="539.7" y1="546.0" x2="685.9" y2="-58.0"/><linearGradient id="g406" href="#J" x1="579.2" y1="512.2" x2="675.1" y2="-48.7"/><linearGradient id="g407" href="#J" x1="584.8" y1="538.8" x2="694.9" y2="-50.6"/><linearGradient id="g408" href="#J" x1="615.9" y1="505.3" x2="688.5" y2="-43.7"/><linearGradient id="g409" href="#J" x1="409.3" y1="587.0" x2="730.9" y2="-75.1"/><linearGradient id="g410" href="#J" x1="503.0" y1="554.1" x2="694.8" y2="-62.4"/><linearGradient id="g411" href="#J" x1="479.6" y1="590.7" x2="720.3" y2="-68.1"/><linearGradient id="g412" href="#J" x1="551.6" y1="548.9" x2="697.9" y2="-55.1"/><linearGradient id="g413" href="#J" x1="541.7" y1="585.4" x2="719.9" y2="-59.3"/><linearGradient id="g414" href="#J" x1="596.4" y1="540.9" x2="706.5" y2="-48.4"/><linearGradient id="g415" href="#J" x1="596.6" y1="575.3" x2="726.8" y2="-51.0"/><linearGradient id="g416" href="#J" x1="637.9" y1="531.4" x2="719.2" y2="-42.9"/><linearGradient id="g417" href="#J" x1="576.9" y1="564.3" x2="703.8" y2="-53.5"/><linearGradient id="g418" href="#J" x1="565.4" y1="574.6" x2="707.6" y2="-56.9"/><linearGradient id="g419" href="#J" x1="586.6" y1="570.8" x2="722.8" y2="-51.1"/><linearGradient id="g420" href="#J" x1="573.7" y1="581.6" x2="726.3" y2="-54.1"/><linearGradient id="g421" href="#J" x1="595.3" y1="577.4" x2="741.2" y2="-48.5"/><linearGradient id="g422" href="#J" x1="580.7" y1="588.9" x2="744.4" y2="-51.0"/><linearGradient id="g423" href="#J" x1="602.7" y1="584.3" x2="759.0" y2="-45.6"/><linearGradient id="g424" href="#J" x1="586.3" y1="596.3" x2="761.7" y2="-47.5"/><linearGradient id="g425" href="#J" x1="609.3" y1="563.5" x2="731.2" y2="-45.5"/><linearGradient id="g426" href="#J" x1="598.4" y1="573.4" x2="734.6" y2="-48.6"/><linearGradient id="g427" href="#J" x1="619.4" y1="569.8" x2="750.1" y2="-43.1"/><linearGradient id="g428" href="#J" x1="607.2" y1="580.2" x2="753.1" y2="-45.7"/><linearGradient id="g429" href="#J" x1="628.6" y1="576.3" x2="768.4" y2="-40.5"/><linearGradient id="g430" href="#J" x1="614.8" y1="587.3" x2="771.0" y2="-42.6"/><linearGradient id="g431" href="#J" x1="636.6" y1="583.0" x2="786.1" y2="-37.5"/><linearGradient id="g432" href="#J" x1="621.1" y1="594.6" x2="788.3" y2="-39.1"/><linearGradient id="g433" href="#J" x1="641.5" y1="562.9" x2="759.0" y2="-38.0"/><linearGradient id="g434" href="#J" x1="631.2" y1="572.3" x2="761.9" y2="-40.6"/><linearGradient id="g435" href="#J" x1="652.1" y1="569.0" x2="777.7" y2="-35.5"/><linearGradient id="g436" href="#J" x1="640.5" y1="579.0" x2="780.3" y2="-37.8"/><linearGradient id="g437" href="#J" x1="661.6" y1="575.3" x2="795.9" y2="-32.8"/><linearGradient id="g438" href="#J" x1="648.6" y1="585.9" x2="798.1" y2="-34.6"/><linearGradient id="g439" href="#J" x1="670.1" y1="581.9" x2="813.5" y2="-29.8"/><linearGradient id="g440" href="#J" x1="655.5" y1="593.0" x2="815.2" y2="-31.1"/><linearGradient id="g441" href="#J" x1="673.6" y1="562.3" x2="786.9" y2="-30.8"/><linearGradient id="g442" href="#J" x1="663.8" y1="571.4" x2="789.4" y2="-33.1"/><linearGradient id="g443" href="#J" x1="684.5" y1="568.3" x2="805.5" y2="-28.3"/><linearGradient id="g444" href="#J" x1="673.5" y1="578.0" x2="807.7" y2="-30.2"/><linearGradient id="g445" href="#J" x1="694.5" y1="574.5" x2="823.7" y2="-25.5"/><linearGradient id="g446" href="#J" x1="682.1" y1="584.7" x2="825.4" y2="-27.0"/><linearGradient id="g447" href="#J" x1="703.4" y1="581.0" x2="841.1" y2="-22.5"/><linearGradient id="g448" href="#J" x1="689.6" y1="591.7" x2="842.5" y2="-23.5"/><linearGradient id="g449" href="#J" x1="742.0" y1="546.3" x2="806.4" y2="-20.2"/><linearGradient id="g450" href="#J" x1="742.9" y1="545.0" x2="806.2" y2="-19.9"/><linearGradient id="g451" href="#J" x1="762.1" y1="548.1" x2="825.6" y2="-17.9"/><linearGradient id="g452" href="#J" x1="763.1" y1="546.6" x2="825.4" y2="-17.6"/><linearGradient id="g453" href="#J" x1="782.2" y1="549.7" x2="844.9" y2="-15.6"/><linearGradient id="g454" href="#J" x1="783.2" y1="548.3" x2="844.8" y2="-15.4"/><linearGradient id="g455" href="#J" x1="802.4" y1="551.4" x2="864.2" y2="-13.4"/><linearGradient id="g456" href="#J" x1="803.5" y1="549.8" x2="864.1" y2="-13.3"/><linearGradient id="g457" href="#J" x1="771.9" y1="550.7" x2="836.6" y2="-17.0"/><linearGradient id="g458" href="#J" x1="772.9" y1="549.3" x2="836.4" y2="-16.7"/><linearGradient id="g459" href="#J" x1="792.1" y1="552.4" x2="855.9" y2="-14.6"/><linearGradient id="g460" href="#J" x1="793.1" y1="550.9" x2="855.7" y2="-14.4"/><linearGradient id="g461" href="#J" x1="812.3" y1="554.1" x2="875.3" y2="-12.4"/><linearGradient id="g462" href="#J" x1="813.4" y1="552.6" x2="875.1" y2="-12.2"/><linearGradient id="g463" href="#J" x1="832.7" y1="555.7" x2="894.7" y2="-10.1"/><linearGradient id="g464" href="#J" x1="833.7" y1="554.1" x2="894.6" y2="-10.0"/><linearGradient id="g465" href="#J" x1="801.8" y1="555.0" x2="866.8" y2="-13.7"/><linearGradient id="g466" href="#J" x1="802.8" y1="553.6" x2="866.6" y2="-13.4"/><linearGradient id="g467" href="#J" x1="822.1" y1="556.7" x2="886.2" y2="-11.4"/><linearGradient id="g468" href="#J" x1="823.1" y1="555.2" x2="886.0" y2="-11.2"/><linearGradient id="g469" href="#J" x1="842.5" y1="558.4" x2="905.6" y2="-9.1"/><linearGradient id="g470" href="#J" x1="843.5" y1="556.9" x2="905.5" y2="-8.9"/><linearGradient id="g471" href="#J" x1="862.9" y1="560.0" x2="925.2" y2="-6.8"/><linearGradient id="g472" href="#J" x1="864.0" y1="558.4" x2="925.1" y2="-6.7"/><linearGradient id="g473" href="#J" x1="831.7" y1="559.4" x2="897.0" y2="-10.5"/><linearGradient id="g474" href="#J" x1="832.7" y1="557.9" x2="896.8" y2="-10.2"/><linearGradient id="g475" href="#J" x1="852.1" y1="561.1" x2="916.5" y2="-8.1"/><linearGradient id="g476" href="#J" x1="853.1" y1="559.6" x2="916.3" y2="-7.9"/><linearGradient id="g477" href="#J" x1="872.6" y1="562.8" x2="936.0" y2="-5.8"/><linearGradient id="g478" href="#J" x1="873.6" y1="561.2" x2="935.9" y2="-5.7"/><linearGradient id="g479" href="#J" x1="893.1" y1="564.4" x2="955.6" y2="-3.5"/><linearGradient id="g480" href="#J" x1="894.2" y1="562.8" x2="955.6" y2="-3.5"/><filter id="sh" x="-20%" y="-20%" width="140%" height="140%"><feGaussianBlur in="SourceAlpha" stdDeviation="3.4"/><feOffset dx="2.3" dy="2.8" result="b"/><feComponentTransfer><feFuncA type="linear" slope="0.62"/></feComponentTransfer><feMerge><feMergeNode/><feMergeNode in="SourceGraphic"/></feMerge></filter><linearGradient id="hl" x1="0" y1="0" x2="0" y2="1"><stop offset="0" stop-color="#fff" stop-opacity="0.22"/><stop offset="0.6" stop-color="#fff" stop-opacity="0"/></linearGradient></defs>
<rect width="1168" height="1469" fill="#fff"/>
<g stroke="#262626" stroke-width="0.75" fill="none" opacity="0.75">
<path d="M126.50 442.70 L126.50 107.05"/>
<path d="M126.50 442.70 L740.50 478.10 L1004.20 397.60"/>
<path d="M126.50 394.75 l-15.17 -0.87"/>
<path d="M126.50 298.85 l-15.17 -0.87"/>
<path d="M126.50 202.95 l-15.17 -0.87"/>
<path d="M126.50 107.05 l-15.17 -0.87"/>
<path d="M126.50 442.70 l-15.02 4.58"/>
<path d="M187.90 446.24 l-15.02 4.58"/>
<path d="M249.30 449.78 l-15.02 4.58"/>
<path d="M310.70 453.32 l-15.02 4.58"/>
<path d="M372.10 456.86 l-15.02 4.58"/>
<path d="M433.50 460.40 l-15.02 4.58"/>
<path d="M494.90 463.94 l-15.02 4.58"/>
<path d="M556.30 467.48 l-15.02 4.58"/>
<path d="M617.70 471.02 l-15.02 4.58"/>
<path d="M679.10 474.56 l-15.02 4.58"/>
<path d="M740.50 478.10 l-15.02 4.58"/>
<path d="M740.50 478.10 l17.57 1.01"/>
<path d="M784.45 464.68 l17.57 1.01"/>
<path d="M828.40 451.27 l17.57 1.01"/>
<path d="M872.35 437.85 l17.57 1.01"/>
<path d="M916.30 424.43 l17.57 1.01"/>
<path d="M960.25 411.02 l17.57 1.01"/>
<path d="M1004.20 397.60 l17.57 1.01"/>
</g>
<g stroke-width="1.1" stroke-linejoin="round"><polygon points="126.40,392.70 157.23,381.15 179.59,348.66" fill="url(#g1)" stroke="url(#g1)"/><polygon points="126.40,392.70 179.59,348.66 148.88,360.15" fill="url(#g2)" stroke="url(#g2)"/><polygon points="148.88,360.15 179.59,348.66 201.95,316.17" fill="url(#g3)" stroke="url(#g3)"/><polygon points="148.88,360.15 201.95,316.17 171.35,327.60" fill="url(#g4)" stroke="url(#g4)"/><polygon points="171.35,327.60 201.95,316.17 224.31,283.69" fill="url(#g5)" stroke="url(#g5)"/><polygon points="171.35,327.60 224.31,283.69 193.83,295.05" fill="url(#g6)" stroke="url(#g6)"/><polygon points="193.83,295.05 224.31,283.69 246.68,251.20" fill="url(#g7)" stroke="url(#g7)"/><polygon points="193.83,295.05 246.68,251.20 216.30,262.50" fill="url(#g8)" stroke="url(#g8)"/><polygon points="157.23,381.15 188.05,369.60 210.30,337.18" fill="url(#g9)" stroke="url(#g9)"/><polygon points="157.23,381.15 210.30,337.18 179.59,348.66" fill="url(#g10)" stroke="url(#g10)"/><polygon points="179.59,348.66 210.30,337.18 232.55,304.75" fill="url(#g11)" stroke="url(#g11)"/><polygon points="179.59,348.66 232.55,304.75 201.95,316.17" fill="url(#g12)" stroke="url(#g12)"/><polygon points="201.95,316.17 232.55,304.75 254.80,272.33" fill="url(#g13)" stroke="url(#g13)"/><polygon points="201.95,316.17 254.80,272.33 224.31,283.69" fill="url(#g14)" stroke="url(#g14)"/><polygon points="224.31,283.69 254.80,272.33 277.05,239.90" fill="url(#g15)" stroke="url(#g15)"/><polygon points="224.31,283.69 277.05,239.90 246.68,251.20" fill="url(#g16)" stroke="url(#g16)"/><polygon points="188.05,369.60 218.87,358.05 241.01,325.69" fill="url(#g17)" stroke="url(#g17)"/><polygon points="188.05,369.60 241.01,325.69 210.30,337.18" fill="url(#g18)" stroke="url(#g18)"/><polygon points="210.30,337.18 241.01,325.69 263.15,293.33" fill="url(#g19)" stroke="url(#g19)"/><polygon points="210.30,337.18 263.15,293.33 232.55,304.75" fill="url(#g20)" stroke="url(#g20)"/><polygon points="232.55,304.75 263.15,293.33 285.29,260.96" fill="url(#g21)" stroke="url(#g21)"/><polygon points="232.55,304.75 285.29,260.96 254.80,272.33" fill="url(#g22)" stroke="url(#g22)"/><polygon points="254.80,272.33 285.29,260.96 307.43,228.60" fill="url(#g23)" stroke="url(#g23)"/><polygon points="254.80,272.33 307.43,228.60 277.05,239.90" fill="url(#g24)" stroke="url(#g24)"/><polygon points="218.87,358.05 249.70,346.50 271.72,314.20" fill="url(#g25)" stroke="url(#g25)"/><polygon points="218.87,358.05 271.72,314.20 241.01,325.69" fill="url(#g26)" stroke="url(#g26)"/><polygon points="241.01,325.69 271.72,314.20 293.75,281.90" fill="url(#g27)" stroke="url(#g27)"/><polygon points="241.01,325.69 293.75,281.90 263.15,293.33" fill="url(#g28)" stroke="url(#g28)"/><polygon points="263.15,293.33 293.75,281.90 315.78,249.60" fill="url(#g29)" stroke="url(#g29)"/><polygon points="263.15,293.33 315.78,249.60 285.29,260.96" fill="url(#g30)" stroke="url(#g30)"/><polygon points="285.29,260.96 315.78,249.60 337.80,217.30" fill="url(#g31)" stroke="url(#g31)"/><polygon points="285.29,260.96 337.80,217.30 307.43,228.60" fill="url(#g32)" stroke="url(#g32)"/><polygon points="249.70,346.50 280.52,342.98 302.59,311.15" fill="url(#g33)" stroke="url(#g33)"/><polygon points="249.70,346.50 302.59,311.15 271.72,314.20" fill="url(#g34)" stroke="url(#g34)"/><polygon points="271.72,314.20 302.59,311.15 324.65,279.33" fill="url(#g35)" stroke="url(#g35)"/><polygon points="271.72,314.20 324.65,279.33 293.75,281.90" fill="url(#g36)" stroke="url(#g36)"/><polygon points="293.75,281.90 324.65,279.33 346.71,247.50" fill="url(#g37)" stroke="url(#g37)"/><polygon points="293.75,281.90 346.71,247.50 315.78,249.60" fill="url(#g38)" stroke="url(#g38)"/><polygon points="315.78,249.60 346.71,247.50 368.78,215.68" fill="url(#g39)" stroke="url(#g39)"/><polygon points="315.78,249.60 368.78,215.68 337.80,217.30" fill="url(#g40)" stroke="url(#g40)"/><polygon points="280.52,342.98 311.35,339.45 333.45,308.10" fill="url(#g41)" stroke="url(#g41)"/><polygon points="280.52,342.98 333.45,308.10 302.59,311.15" fill="url(#g42)" stroke="url(#g42)"/><polygon points="302.59,311.15 333.45,308.10 355.55,276.75" fill="url(#g43)" stroke="url(#g43)"/><polygon points="302.59,311.15 355.55,276.75 324.65,279.33" fill="url(#g44)" stroke="url(#g44)"/><polygon points="324.65,279.33 355.55,276.75 377.65,245.40" fill="url(#g45)" stroke="url(#g45)"/><polygon points="324.65,279.33 377.65,245.40 346.71,247.50" fill="url(#g46)" stroke="url(#g46)"/><polygon points="346.71,247.50 377.65,245.40 399.75,214.05" fill="url(#g47)" stroke="url(#g47)"/><polygon points="346.71,247.50 399.75,214.05 368.78,215.68" fill="url(#g48)" stroke="url(#g48)"/><polygon points="311.35,339.45 342.18,335.92 364.31,305.05" fill="url(#g49)" stroke="url(#g49)"/><polygon points="311.35,339.45 364.31,305.05 333.45,308.10" fill="url(#g50)" stroke="url(#g50)"/><polygon points="333.45,308.10 364.31,305.05 386.45,274.18" fill="url(#g51)" stroke="url(#g51)"/><polygon points="333.45,308.10 386.45,274.18 355.55,276.75" fill="url(#g52)" stroke="url(#g52)"/><polygon points="355.55,276.75 386.45,274.18 408.59,243.30" fill="url(#g53)" stroke="url(#g53)"/><polygon points="355.55,276.75 408.59,243.30 377.65,245.40" fill="url(#g54)" stroke="url(#g54)"/><polygon points="377.65,245.40 408.59,243.30 430.72,212.43" fill="url(#g55)" stroke="url(#g55)"/><polygon points="377.65,245.40 430.72,212.43 399.75,214.05" fill="url(#g56)" stroke="url(#g56)"/><polygon points="342.18,335.92 373.00,332.40 395.18,302.00" fill="url(#g57)" stroke="url(#g57)"/><polygon points="342.18,335.92 395.18,302.00 364.31,305.05" fill="url(#g58)" stroke="url(#g58)"/><polygon points="364.31,305.05 395.18,302.00 417.35,271.60" fill="url(#g59)" stroke="url(#g59)"/><polygon points="364.31,305.05 417.35,271.60 386.45,274.18" fill="url(#g60)" stroke="url(#g60)"/><polygon points="386.45,274.18 417.35,271.60 439.52,241.20" fill="url(#g61)" stroke="url(#g61)"/><polygon points="386.45,274.18 439.52,241.20 408.59,243.30" fill="url(#g62)" stroke="url(#g62)"/><polygon points="408.59,243.30 439.52,241.20 461.70,210.80" fill="url(#g63)" stroke="url(#g63)"/><polygon points="408.59,243.30 461.70,210.80 430.72,212.43" fill="url(#g64)" stroke="url(#g64)"/><polygon points="373.00,332.40 403.65,321.12 425.83,293.51" fill="url(#g65)" stroke="url(#g65)"/><polygon points="373.00,332.40 425.83,293.51 395.18,302.00" fill="url(#g66)" stroke="url(#g66)"/><polygon points="395.18,302.00 425.83,293.51 448.00,265.89" fill="url(#g67)" stroke="url(#g67)"/><polygon points="395.18,302.00 448.00,265.89 417.35,271.60" fill="url(#g68)" stroke="url(#g68)"/><polygon points="417.35,271.60 448.00,265.89 470.18,238.27" fill="url(#g69)" stroke="url(#g69)"/><polygon points="417.35,271.60 470.18,238.27 439.52,241.20" fill="url(#g70)" stroke="url(#g70)"/><polygon points="439.52,241.20 470.18,238.27 492.35,210.65" fill="url(#g71)" stroke="url(#g71)"/><polygon points="439.52,241.20 492.35,210.65 461.70,210.80" fill="url(#g72)" stroke="url(#g72)"/><polygon points="403.65,321.12 434.30,309.85 456.48,285.01" fill="url(#g73)" stroke="url(#g73)"/><polygon points="403.65,321.12 456.48,285.01 425.83,293.51" fill="url(#g74)" stroke="url(#g74)"/><polygon points="425.83,293.51 456.48,285.01 478.65,260.18" fill="url(#g75)" stroke="url(#g75)"/><polygon points="425.83,293.51 478.65,260.18 448.00,265.89" fill="url(#g76)" stroke="url(#g76)"/><polygon points="448.00,265.89 478.65,260.18 500.82,235.34" fill="url(#g77)" stroke="url(#g77)"/><polygon points="448.00,265.89 500.82,235.34 470.18,238.27" fill="url(#g78)" stroke="url(#g78)"/><polygon points="470.18,238.27 500.82,235.34 523.00,210.50" fill="url(#g79)" stroke="url(#g79)"/><polygon points="470.18,238.27 523.00,210.50 492.35,210.65" fill="url(#g80)" stroke="url(#g80)"/><polygon points="434.30,309.85 464.95,298.58 487.12,276.52" fill="url(#g81)" stroke="url(#g81)"/><polygon points="434.30,309.85 487.12,276.52 456.48,285.01" fill="url(#g82)" stroke="url(#g82)"/><polygon points="456.48,285.01 487.12,276.52 509.30,254.46" fill="url(#g83)" stroke="url(#g83)"/><polygon points="456.48,285.01 509.30,254.46 478.65,260.18" fill="url(#g84)" stroke="url(#g84)"/><polygon points="478.65,260.18 509.30,254.46 531.48,232.41" fill="url(#g85)" stroke="url(#g85)"/><polygon points="478.65,260.18 531.48,232.41 500.82,235.34" fill="url(#g86)" stroke="url(#g86)"/><polygon points="500.82,235.34 531.48,232.41 553.65,210.35" fill="url(#g87)" stroke="url(#g87)"/><polygon points="500.82,235.34 553.65,210.35 523.00,210.50" fill="url(#g88)" stroke="url(#g88)"/><polygon points="464.95,298.58 495.60,287.30 517.78,268.03" fill="url(#g89)" stroke="url(#g89)"/><polygon points="464.95,298.58 517.78,268.03 487.12,276.52" fill="url(#g90)" stroke="url(#g90)"/><polygon points="487.12,276.52 517.78,268.03 539.95,248.75" fill="url(#g91)" stroke="url(#g91)"/><polygon points="487.12,276.52 539.95,248.75 509.30,254.46" fill="url(#g92)" stroke="url(#g92)"/><polygon points="509.30,254.46 539.95,248.75 562.12,229.47" fill="url(#g93)" stroke="url(#g93)"/><polygon points="509.30,254.46 562.12,229.47 531.48,232.41" fill="url(#g94)" stroke="url(#g94)"/><polygon points="531.48,232.41 562.12,229.47 584.30,210.20" fill="url(#g95)" stroke="url(#g95)"/><polygon points="531.48,232.41 584.30,210.20 553.65,210.35" fill="url(#g96)" stroke="url(#g96)"/><polygon points="495.60,287.30 526.35,283.35 548.43,262.49" fill="url(#g97)" stroke="url(#g97)"/><polygon points="495.60,287.30 548.43,262.49 517.78,268.03" fill="url(#g98)" stroke="url(#g98)"/><polygon points="517.78,268.03 548.43,262.49 570.51,241.62" fill="url(#g99)" stroke="url(#g99)"/><polygon points="517.78,268.03 570.51,241.62 539.95,248.75" fill="url(#g100)" stroke="url(#g100)"/><polygon points="539.95,248.75 570.51,241.62 592.59,220.76" fill="url(#g101)" stroke="url(#g101)"/><polygon points="539.95,248.75 592.59,220.76 562.12,229.47" fill="url(#g102)" stroke="url(#g102)"/><polygon points="562.12,229.47 592.59,220.76 614.67,199.90" fill="url(#g103)" stroke="url(#g103)"/><polygon points="562.12,229.47 614.67,199.90 584.30,210.20" fill="url(#g104)" stroke="url(#g104)"/><polygon points="526.35,283.35 557.10,279.40 579.09,256.95" fill="url(#g105)" stroke="url(#g105)"/><polygon points="526.35,283.35 579.09,256.95 548.43,262.49" fill="url(#g106)" stroke="url(#g106)"/><polygon points="548.43,262.49 579.09,256.95 601.08,234.50" fill="url(#g107)" stroke="url(#g107)"/><polygon points="548.43,262.49 601.08,234.50 570.51,241.62" fill="url(#g108)" stroke="url(#g108)"/><polygon points="570.51,241.62 601.08,234.50 623.06,212.05" fill="url(#g109)" stroke="url(#g109)"/><polygon points="570.51,241.62 623.06,212.05 592.59,220.76" fill="url(#g110)" stroke="url(#g110)"/><polygon points="592.59,220.76 623.06,212.05 645.05,189.60" fill="url(#g111)" stroke="url(#g111)"/><polygon points="592.59,220.76 645.05,189.60 614.67,199.90" fill="url(#g112)" stroke="url(#g112)"/><polygon points="557.10,279.40 587.85,275.45 609.74,251.41" fill="url(#g113)" stroke="url(#g113)"/><polygon points="557.10,279.40 609.74,251.41 579.09,256.95" fill="url(#g114)" stroke="url(#g114)"/><polygon points="579.09,256.95 609.74,251.41 631.64,227.38" fill="url(#g115)" stroke="url(#g115)"/><polygon points="579.09,256.95 631.64,227.38 601.08,234.50" fill="url(#g116)" stroke="url(#g116)"/><polygon points="601.08,234.50 631.64,227.38 653.53,203.34" fill="url(#g117)" stroke="url(#g117)"/><polygon points="601.08,234.50 653.53,203.34 623.06,212.05" fill="url(#g118)" stroke="url(#g118)"/><polygon points="623.06,212.05 653.53,203.34 675.42,179.30" fill="url(#g119)" stroke="url(#g119)"/><polygon points="623.06,212.05 675.42,179.30 645.05,189.60" fill="url(#g120)" stroke="url(#g120)"/><polygon points="587.85,275.45 618.60,271.50 640.40,245.88" fill="url(#g121)" stroke="url(#g121)"/><polygon points="587.85,275.45 640.40,245.88 609.74,251.41" fill="url(#g122)" stroke="url(#g122)"/><polygon points="609.74,251.41 640.40,245.88 662.20,220.25" fill="url(#g123)" stroke="url(#g123)"/><polygon points="609.74,251.41 662.20,220.25 631.64,227.38" fill="url(#g124)" stroke="url(#g124)"/><polygon points="631.64,227.38 662.20,220.25 684.00,194.62" fill="url(#g125)" stroke="url(#g125)"/><polygon points="631.64,227.38 684.00,194.62 653.53,203.34" fill="url(#g126)" stroke="url(#g126)"/><polygon points="653.53,203.34 684.00,194.62 705.80,169.00" fill="url(#g127)" stroke="url(#g127)"/><polygon points="653.53,203.34 705.80,169.00 675.42,179.30" fill="url(#g128)" stroke="url(#g128)"/><polygon points="618.60,271.50 649.38,267.68 671.18,241.71" fill="url(#g129)" stroke="url(#g129)"/><polygon points="618.60,271.50 671.18,241.71 640.40,245.88" fill="url(#g130)" stroke="url(#g130)"/><polygon points="640.40,245.88 671.18,241.71 692.99,215.74" fill="url(#g131)" stroke="url(#g131)"/><polygon points="640.40,245.88 692.99,215.74 662.20,220.25" fill="url(#g132)" stroke="url(#g132)"/><polygon points="662.20,220.25 692.99,215.74 714.79,189.77" fill="url(#g133)" stroke="url(#g133)"/><polygon points="662.20,220.25 714.79,189.77 684.00,194.62" fill="url(#g134)" stroke="url(#g134)"/><polygon points="684.00,194.62 714.79,189.77 736.60,163.80" fill="url(#g135)" stroke="url(#g135)"/><polygon points="684.00,194.62 736.60,163.80 705.80,169.00" fill="url(#g136)" stroke="url(#g136)"/><polygon points="649.38,267.68 680.15,263.85 701.96,237.54" fill="url(#g137)" stroke="url(#g137)"/><polygon points="649.38,267.68 701.96,237.54 671.18,241.71" fill="url(#g138)" stroke="url(#g138)"/><polygon points="671.18,241.71 701.96,237.54 723.78,211.23" fill="url(#g139)" stroke="url(#g139)"/><polygon points="671.18,241.71 723.78,211.23 692.99,215.74" fill="url(#g140)" stroke="url(#g140)"/><polygon points="692.99,215.74 723.78,211.23 745.59,184.91" fill="url(#g141)" stroke="url(#g141)"/><polygon points="692.99,215.74 745.59,184.91 714.79,189.77" fill="url(#g142)" stroke="url(#g142)"/><polygon points="714.79,189.77 745.59,184.91 767.40,158.60" fill="url(#g143)" stroke="url(#g143)"/><polygon points="714.79,189.77 767.40,158.60 736.60,163.80" fill="url(#g144)" stroke="url(#g144)"/><polygon points="680.15,263.85 710.93,260.02 732.74,233.37" fill="url(#g145)" stroke="url(#g145)"/><polygon points="680.15,263.85 732.74,233.37 701.96,237.54" fill="url(#g146)" stroke="url(#g146)"/><polygon points="701.96,237.54 732.74,233.37 754.56,206.71" fill="url(#g147)" stroke="url(#g147)"/><polygon points="701.96,237.54 754.56,206.71 723.78,211.23" fill="url(#g148)" stroke="url(#g148)"/><polygon points="723.78,211.23 754.56,206.71 776.38,180.06" fill="url(#g149)" stroke="url(#g149)"/><polygon points="723.78,211.23 776.38,180.06 745.59,184.91" fill="url(#g150)" stroke="url(#g150)"/><polygon points="745.59,184.91 776.38,180.06 798.20,153.40" fill="url(#g151)" stroke="url(#g151)"/><polygon points="745.59,184.91 798.20,153.40 767.40,158.60" fill="url(#g152)" stroke="url(#g152)"/><polygon points="710.93,260.02 741.70,256.20 763.53,229.20" fill="url(#g153)" stroke="url(#g153)"/><polygon points="710.93,260.02 763.53,229.20 732.74,233.37" fill="url(#g154)" stroke="url(#g154)"/><polygon points="732.74,233.37 763.53,229.20 785.35,202.20" fill="url(#g155)" stroke="url(#g155)"/><polygon points="732.74,233.37 785.35,202.20 754.56,206.71" fill="url(#g156)" stroke="url(#g156)"/><polygon points="754.56,206.71 785.35,202.20 807.17,175.20" fill="url(#g157)" stroke="url(#g157)"/><polygon points="754.56,206.71 807.17,175.20 776.38,180.06" fill="url(#g158)" stroke="url(#g158)"/><polygon points="776.38,180.06 807.17,175.20 829.00,148.20" fill="url(#g159)" stroke="url(#g159)"/><polygon points="776.38,180.06 829.00,148.20 798.20,153.40" fill="url(#g160)" stroke="url(#g160)"/><polygon points="216.30,262.50 246.68,251.20 268.66,229.18" fill="url(#g161)" stroke="url(#g161)"/><polygon points="216.30,262.50 268.66,229.18 238.33,238.35" fill="url(#g162)" stroke="url(#g162)"/><polygon points="238.33,238.35 268.66,229.18 290.64,207.16" fill="url(#g163)" stroke="url(#g163)"/><polygon points="238.33,238.35 290.64,207.16 260.35,214.20" fill="url(#g164)" stroke="url(#g164)"/><polygon points="260.35,214.20 290.64,207.16 312.62,185.14" fill="url(#g165)" stroke="url(#g165)"/><polygon points="260.35,214.20 312.62,185.14 282.38,190.05" fill="url(#g166)" stroke="url(#g166)"/><polygon points="282.38,190.05 312.62,185.14 334.60,163.12" fill="url(#g167)" stroke="url(#g167)"/><polygon points="282.38,190.05 334.60,163.12 304.40,165.90" fill="url(#g168)" stroke="url(#g168)"/><polygon points="246.68,251.20 277.05,239.90 298.99,220.01" fill="url(#g169)" stroke="url(#g169)"/><polygon points="246.68,251.20 298.99,220.01 268.66,229.18" fill="url(#g170)" stroke="url(#g170)"/><polygon points="268.66,229.18 298.99,220.01 320.92,200.12" fill="url(#g171)" stroke="url(#g171)"/><polygon points="268.66,229.18 320.92,200.12 290.64,207.16" fill="url(#g172)" stroke="url(#g172)"/><polygon points="290.64,207.16 320.92,200.12 342.86,180.24" fill="url(#g173)" stroke="url(#g173)"/><polygon points="290.64,207.16 342.86,180.24 312.62,185.14" fill="url(#g174)" stroke="url(#g174)"/><polygon points="312.62,185.14 342.86,180.24 364.80,160.35" fill="url(#g175)" stroke="url(#g175)"/><polygon points="312.62,185.14 364.80,160.35 334.60,163.12" fill="url(#g176)" stroke="url(#g176)"/><polygon points="277.05,239.90 307.43,228.60 329.32,210.84" fill="url(#g177)" stroke="url(#g177)"/><polygon points="277.05,239.90 329.32,210.84 298.99,220.01" fill="url(#g178)" stroke="url(#g178)"/><polygon points="298.99,220.01 329.32,210.84 351.21,193.09" fill="url(#g179)" stroke="url(#g179)"/><polygon points="298.99,220.01 351.21,193.09 320.92,200.12" fill="url(#g180)" stroke="url(#g180)"/><polygon points="320.92,200.12 351.21,193.09 373.11,175.33" fill="url(#g181)" stroke="url(#g181)"/><polygon points="320.92,200.12 373.11,175.33 342.86,180.24" fill="url(#g182)" stroke="url(#g182)"/><polygon points="342.86,180.24 373.11,175.33 395.00,157.58" fill="url(#g183)" stroke="url(#g183)"/><polygon points="342.86,180.24 395.00,157.58 364.80,160.35" fill="url(#g184)" stroke="url(#g184)"/><polygon points="307.43,228.60 337.80,217.30 359.65,201.68" fill="url(#g185)" stroke="url(#g185)"/><polygon points="307.43,228.60 359.65,201.68 329.32,210.84" fill="url(#g186)" stroke="url(#g186)"/><polygon points="329.32,210.84 359.65,201.68 381.50,186.05" fill="url(#g187)" stroke="url(#g187)"/><polygon points="329.32,210.84 381.50,186.05 351.21,193.09" fill="url(#g188)" stroke="url(#g188)"/><polygon points="351.21,193.09 381.50,186.05 403.35,170.43" fill="url(#g189)" stroke="url(#g189)"/><polygon points="351.21,193.09 403.35,170.43 373.11,175.33" fill="url(#g190)" stroke="url(#g190)"/><polygon points="373.11,175.33 403.35,170.43 425.20,154.80" fill="url(#g191)" stroke="url(#g191)"/><polygon points="373.11,175.33 425.20,154.80 395.00,157.58" fill="url(#g192)" stroke="url(#g192)"/><polygon points="337.80,217.30 368.78,215.68 390.67,199.05" fill="url(#g193)" stroke="url(#g193)"/><polygon points="337.80,217.30 390.67,199.05 359.65,201.68" fill="url(#g194)" stroke="url(#g194)"/><polygon points="359.65,201.68 390.67,199.05 412.57,182.43" fill="url(#g195)" stroke="url(#g195)"/><polygon points="359.65,201.68 412.57,182.43 381.50,186.05" fill="url(#g196)" stroke="url(#g196)"/><polygon points="381.50,186.05 412.57,182.43 434.48,165.80" fill="url(#g197)" stroke="url(#g197)"/><polygon points="381.50,186.05 434.48,165.80 403.35,170.43" fill="url(#g198)" stroke="url(#g198)"/><polygon points="403.35,170.43 434.48,165.80 456.38,149.18" fill="url(#g199)" stroke="url(#g199)"/><polygon points="403.35,170.43 456.38,149.18 425.20,154.80" fill="url(#g200)" stroke="url(#g200)"/><polygon points="368.78,215.68 399.75,214.05 421.70,196.43" fill="url(#g201)" stroke="url(#g201)"/><polygon points="368.78,215.68 421.70,196.43 390.67,199.05" fill="url(#g202)" stroke="url(#g202)"/><polygon points="390.67,199.05 421.70,196.43 443.65,178.80" fill="url(#g203)" stroke="url(#g203)"/><polygon points="390.67,199.05 443.65,178.80 412.57,182.43" fill="url(#g204)" stroke="url(#g204)"/><polygon points="412.57,182.43 443.65,178.80 465.60,161.18" fill="url(#g205)" stroke="url(#g205)"/><polygon points="412.57,182.43 465.60,161.18 434.48,165.80" fill="url(#g206)" stroke="url(#g206)"/><polygon points="434.48,165.80 465.60,161.18 487.55,143.55" fill="url(#g207)" stroke="url(#g207)"/><polygon points="434.48,165.80 487.55,143.55 456.38,149.18" fill="url(#g208)" stroke="url(#g208)"/><polygon points="399.75,214.05 430.72,212.43 452.73,193.80" fill="url(#g209)" stroke="url(#g209)"/><polygon points="399.75,214.05 452.73,193.80 421.70,196.43" fill="url(#g210)" stroke="url(#g210)"/><polygon points="421.70,196.43 452.73,193.80 474.72,175.18" fill="url(#g211)" stroke="url(#g211)"/><polygon points="421.70,196.43 474.72,175.18 443.65,178.80" fill="url(#g212)" stroke="url(#g212)"/><polygon points="443.65,178.80 474.72,175.18 496.72,156.55" fill="url(#g213)" stroke="url(#g213)"/><polygon points="443.65,178.80 496.72,156.55 465.60,161.18" fill="url(#g214)" stroke="url(#g214)"/><polygon points="465.60,161.18 496.72,156.55 518.72,137.93" fill="url(#g215)" stroke="url(#g215)"/><polygon points="465.60,161.18 518.72,137.93 487.55,143.55" fill="url(#g216)" stroke="url(#g216)"/><polygon points="430.72,212.43 461.70,210.80 483.75,191.18" fill="url(#g217)" stroke="url(#g217)"/><polygon points="430.72,212.43 483.75,191.18 452.73,193.80" fill="url(#g218)" stroke="url(#g218)"/><polygon points="452.73,193.80 483.75,191.18 505.80,171.55" fill="url(#g219)" stroke="url(#g219)"/><polygon points="452.73,193.80 505.80,171.55 474.72,175.18" fill="url(#g220)" stroke="url(#g220)"/><polygon points="474.72,175.18 505.80,171.55 527.85,151.93" fill="url(#g221)" stroke="url(#g221)"/><polygon points="474.72,175.18 527.85,151.93 496.72,156.55" fill="url(#g222)" stroke="url(#g222)"/><polygon points="496.72,156.55 527.85,151.93 549.90,132.30" fill="url(#g223)" stroke="url(#g223)"/><polygon points="496.72,156.55 549.90,132.30 518.72,137.93" fill="url(#g224)" stroke="url(#g224)"/><polygon points="461.70,210.80 492.35,210.65 514.37,189.12" fill="url(#g225)" stroke="url(#g225)"/><polygon points="461.70,210.80 514.37,189.12 483.75,191.18" fill="url(#g226)" stroke="url(#g226)"/><polygon points="483.75,191.18 514.37,189.12 536.39,167.59" fill="url(#g227)" stroke="url(#g227)"/><polygon points="483.75,191.18 536.39,167.59 505.80,171.55" fill="url(#g228)" stroke="url(#g228)"/><polygon points="505.80,171.55 536.39,167.59 558.41,146.06" fill="url(#g229)" stroke="url(#g229)"/><polygon points="505.80,171.55 558.41,146.06 527.85,151.93" fill="url(#g230)" stroke="url(#g230)"/><polygon points="527.85,151.93 558.41,146.06 580.42,124.53" fill="url(#g231)" stroke="url(#g231)"/><polygon points="527.85,151.93 580.42,124.53 549.90,132.30" fill="url(#g232)" stroke="url(#g232)"/><polygon points="492.35,210.65 523.00,210.50 544.99,187.06" fill="url(#g233)" stroke="url(#g233)"/><polygon points="492.35,210.65 544.99,187.06 514.37,189.12" fill="url(#g234)" stroke="url(#g234)"/><polygon points="514.37,189.12 544.99,187.06 566.98,163.62" fill="url(#g235)" stroke="url(#g235)"/><polygon points="514.37,189.12 566.98,163.62 536.39,167.59" fill="url(#g236)" stroke="url(#g236)"/><polygon points="536.39,167.59 566.98,163.62 588.96,140.19" fill="url(#g237)" stroke="url(#g237)"/><polygon points="536.39,167.59 588.96,140.19 558.41,146.06" fill="url(#g238)" stroke="url(#g238)"/><polygon points="558.41,146.06 588.96,140.19 610.95,116.75" fill="url(#g239)" stroke="url(#g239)"/><polygon points="558.41,146.06 610.95,116.75 580.42,124.53" fill="url(#g240)" stroke="url(#g240)"/><polygon points="523.00,210.50 553.65,210.35 575.61,185.01" fill="url(#g241)" stroke="url(#g241)"/><polygon points="523.00,210.50 575.61,185.01 544.99,187.06" fill="url(#g242)" stroke="url(#g242)"/><polygon points="544.99,187.06 575.61,185.01 597.56,159.66" fill="url(#g243)" stroke="url(#g243)"/><polygon points="544.99,187.06 597.56,159.66 566.98,163.62" fill="url(#g244)" stroke="url(#g244)"/><polygon points="566.98,163.62 597.56,159.66 619.52,134.32" fill="url(#g245)" stroke="url(#g245)"/><polygon points="566.98,163.62 619.52,134.32 588.96,140.19" fill="url(#g246)" stroke="url(#g246)"/><polygon points="588.96,140.19 619.52,134.32 641.48,108.98" fill="url(#g247)" stroke="url(#g247)"/><polygon points="588.96,140.19 641.48,108.98 610.95,116.75" fill="url(#g248)" stroke="url(#g248)"/><polygon points="553.65,210.35 584.30,210.20 606.22,182.95" fill="url(#g249)" stroke="url(#g249)"/><polygon points="553.65,210.35 606.22,182.95 575.61,185.01" fill="url(#g250)" stroke="url(#g250)"/><polygon points="575.61,185.01 606.22,182.95 628.15,155.70" fill="url(#g251)" stroke="url(#g251)"/><polygon points="575.61,185.01 628.15,155.70 597.56,159.66" fill="url(#g252)" stroke="url(#g252)"/><polygon points="597.56,159.66 628.15,155.70 650.08,128.45" fill="url(#g253)" stroke="url(#g253)"/><polygon points="597.56,159.66 650.08,128.45 619.52,134.32" fill="url(#g254)" stroke="url(#g254)"/><polygon points="619.52,134.32 650.08,128.45 672.00,101.20" fill="url(#g255)" stroke="url(#g255)"/><polygon points="619.52,134.32 672.00,101.20 641.48,108.98" fill="url(#g256)" stroke="url(#g256)"/><polygon points="584.30,210.20 614.67,199.90 636.64,174.36" fill="url(#g257)" stroke="url(#g257)"/><polygon points="584.30,210.20 636.64,174.36 606.22,182.95" fill="url(#g258)" stroke="url(#g258)"/><polygon points="606.22,182.95 636.64,174.36 658.61,148.82" fill="url(#g259)" stroke="url(#g259)"/><polygon points="606.22,182.95 658.61,148.82 628.15,155.70" fill="url(#g260)" stroke="url(#g260)"/><polygon points="628.15,155.70 658.61,148.82 680.58,123.29" fill="url(#g261)" stroke="url(#g261)"/><polygon points="628.15,155.70 680.58,123.29 650.08,128.45" fill="url(#g262)" stroke="url(#g262)"/><polygon points="650.08,128.45 680.58,123.29 702.55,97.75" fill="url(#g263)" stroke="url(#g263)"/><polygon points="650.08,128.45 702.55,97.75 672.00,101.20" fill="url(#g264)" stroke="url(#g264)"/><polygon points="614.67,199.90 645.05,189.60 667.06,165.78" fill="url(#g265)" stroke="url(#g265)"/><polygon points="614.67,199.90 667.06,165.78 636.64,174.36" fill="url(#g266)" stroke="url(#g266)"/><polygon points="636.64,174.36 667.06,165.78 689.08,141.95" fill="url(#g267)" stroke="url(#g267)"/><polygon points="636.64,174.36 689.08,141.95 658.61,148.82" fill="url(#g268)" stroke="url(#g268)"/><polygon points="658.61,148.82 689.08,141.95 711.09,118.13" fill="url(#g269)" stroke="url(#g269)"/><polygon points="658.61,148.82 711.09,118.13 680.58,123.29" fill="url(#g270)" stroke="url(#g270)"/><polygon points="680.58,123.29 711.09,118.13 733.10,94.30" fill="url(#g271)" stroke="url(#g271)"/><polygon points="680.58,123.29 733.10,94.30 702.55,97.75" fill="url(#g272)" stroke="url(#g272)"/><polygon points="645.05,189.60 675.42,179.30 697.48,157.19" fill="url(#g273)" stroke="url(#g273)"/><polygon points="645.05,189.60 697.48,157.19 667.06,165.78" fill="url(#g274)" stroke="url(#g274)"/><polygon points="667.06,165.78 697.48,157.19 719.54,135.08" fill="url(#g275)" stroke="url(#g275)"/><polygon points="667.06,165.78 719.54,135.08 689.08,141.95" fill="url(#g276)" stroke="url(#g276)"/><polygon points="689.08,141.95 719.54,135.08 741.59,112.96" fill="url(#g277)" stroke="url(#g277)"/><polygon points="689.08,141.95 741.59,112.96 711.09,118.13" fill="url(#g278)" stroke="url(#g278)"/><polygon points="711.09,118.13 741.59,112.96 763.65,90.85" fill="url(#g279)" stroke="url(#g279)"/><polygon points="711.09,118.13 763.65,90.85 733.10,94.30" fill="url(#g280)" stroke="url(#g280)"/><polygon points="675.42,179.30 705.80,169.00 727.90,148.60" fill="url(#g281)" stroke="url(#g281)"/><polygon points="675.42,179.30 727.90,148.60 697.48,157.19" fill="url(#g282)" stroke="url(#g282)"/><polygon points="697.48,157.19 727.90,148.60 750.00,128.20" fill="url(#g283)" stroke="url(#g283)"/><polygon points="697.48,157.19 750.00,128.20 719.54,135.08" fill="url(#g284)" stroke="url(#g284)"/><polygon points="719.54,135.08 750.00,128.20 772.10,107.80" fill="url(#g285)" stroke="url(#g285)"/><polygon points="719.54,135.08 772.10,107.80 741.59,112.96" fill="url(#g286)" stroke="url(#g286)"/><polygon points="741.59,112.96 772.10,107.80 794.20,87.40" fill="url(#g287)" stroke="url(#g287)"/><polygon points="741.59,112.96 794.20,87.40 763.65,90.85" fill="url(#g288)" stroke="url(#g288)"/><polygon points="705.80,169.00 736.60,163.80 758.66,144.49" fill="url(#g289)" stroke="url(#g289)"/><polygon points="705.80,169.00 758.66,144.49 727.90,148.60" fill="url(#g290)" stroke="url(#g290)"/><polygon points="727.90,148.60 758.66,144.49 780.71,125.19" fill="url(#g291)" stroke="url(#g291)"/><polygon points="727.90,148.60 780.71,125.19 750.00,128.20" fill="url(#g292)" stroke="url(#g292)"/><polygon points="750.00,128.20 780.71,125.19 802.77,105.88" fill="url(#g293)" stroke="url(#g293)"/><polygon points="750.00,128.20 802.77,105.88 772.10,107.80" fill="url(#g294)" stroke="url(#g294)"/><polygon points="772.10,107.80 802.77,105.88 824.83,86.58" fill="url(#g295)" stroke="url(#g295)"/><polygon points="772.10,107.80 824.83,86.58 794.20,87.40" fill="url(#g296)" stroke="url(#g296)"/><polygon points="736.60,163.80 767.40,158.60 789.41,140.39" fill="url(#g297)" stroke="url(#g297)"/><polygon points="736.60,163.80 789.41,140.39 758.66,144.49" fill="url(#g298)" stroke="url(#g298)"/><polygon points="758.66,144.49 789.41,140.39 811.42,122.17" fill="url(#g299)" stroke="url(#g299)"/><polygon points="758.66,144.49 811.42,122.17 780.71,125.19" fill="url(#g300)" stroke="url(#g300)"/><polygon points="780.71,125.19 811.42,122.17 833.44,103.96" fill="url(#g301)" stroke="url(#g301)"/><polygon points="780.71,125.19 833.44,103.96 802.77,105.88" fill="url(#g302)" stroke="url(#g302)"/><polygon points="802.77,105.88 833.44,103.96 855.45,85.75" fill="url(#g303)" stroke="url(#g303)"/><polygon points="802.77,105.88 855.45,85.75 824.83,86.58" fill="url(#g304)" stroke="url(#g304)"/><polygon points="767.40,158.60 798.20,153.40 820.17,136.28" fill="url(#g305)" stroke="url(#g305)"/><polygon points="767.40,158.60 820.17,136.28 789.41,140.39" fill="url(#g306)" stroke="url(#g306)"/><polygon points="789.41,140.39 820.17,136.28 842.14,119.16" fill="url(#g307)" stroke="url(#g307)"/><polygon points="789.41,140.39 842.14,119.16 811.42,122.17" fill="url(#g308)" stroke="url(#g308)"/><polygon points="811.42,122.17 842.14,119.16 864.11,102.04" fill="url(#g309)" stroke="url(#g309)"/><polygon points="811.42,122.17 864.11,102.04 833.44,103.96" fill="url(#g310)" stroke="url(#g310)"/><polygon points="833.44,103.96 864.11,102.04 886.08,84.92" fill="url(#g311)" stroke="url(#g311)"/><polygon points="833.44,103.96 886.08,84.92 855.45,85.75" fill="url(#g312)" stroke="url(#g312)"/><polygon points="798.20,153.40 829.00,148.20 850.92,132.17" fill="url(#g313)" stroke="url(#g313)"/><polygon points="798.20,153.40 850.92,132.17 820.17,136.28" fill="url(#g314)" stroke="url(#g314)"/><polygon points="820.17,136.28 850.92,132.17 872.85,116.15" fill="url(#g315)" stroke="url(#g315)"/><polygon points="820.17,136.28 872.85,116.15 842.14,119.16" fill="url(#g316)" stroke="url(#g316)"/><polygon points="842.14,119.16 872.85,116.15 894.78,100.12" fill="url(#g317)" stroke="url(#g317)"/><polygon points="842.14,119.16 894.78,100.12 864.11,102.04" fill="url(#g318)" stroke="url(#g318)"/><polygon points="864.11,102.04 894.78,100.12 916.70,84.10" fill="url(#g319)" stroke="url(#g319)"/><polygon points="864.11,102.04 916.70,84.10 886.08,84.92" fill="url(#g320)" stroke="url(#g320)"/><polygon points="304.40,165.90 334.60,163.12 356.73,134.18" fill="url(#g321)" stroke="url(#g321)"/><polygon points="304.40,165.90 356.73,134.18 326.42,136.40" fill="url(#g322)" stroke="url(#g322)"/><polygon points="326.42,136.40 356.73,134.18 378.86,105.24" fill="url(#g323)" stroke="url(#g323)"/><polygon points="326.42,136.40 378.86,105.24 348.45,106.90" fill="url(#g324)" stroke="url(#g324)"/><polygon points="348.45,106.90 378.86,105.24 400.99,76.29" fill="url(#g325)" stroke="url(#g325)"/><polygon points="348.45,106.90 400.99,76.29 370.48,77.40" fill="url(#g326)" stroke="url(#g326)"/><polygon points="370.48,77.40 400.99,76.29 423.12,47.35" fill="url(#g327)" stroke="url(#g327)"/><polygon points="370.48,77.40 423.12,47.35 392.50,47.90" fill="url(#g328)" stroke="url(#g328)"/><polygon points="334.60,163.12 364.80,160.35 387.04,131.96" fill="url(#g329)" stroke="url(#g329)"/><polygon points="334.60,163.12 387.04,131.96 356.73,134.18" fill="url(#g330)" stroke="url(#g330)"/><polygon points="356.73,134.18 387.04,131.96 409.27,103.58" fill="url(#g331)" stroke="url(#g331)"/><polygon points="356.73,134.18 409.27,103.58 378.86,105.24" fill="url(#g332)" stroke="url(#g332)"/><polygon points="378.86,105.24 409.27,103.58 431.51,75.19" fill="url(#g333)" stroke="url(#g333)"/><polygon points="378.86,105.24 431.51,75.19 400.99,76.29" fill="url(#g334)" stroke="url(#g334)"/><polygon points="400.99,76.29 431.51,75.19 453.75,46.80" fill="url(#g335)" stroke="url(#g335)"/><polygon points="400.99,76.29 453.75,46.80 423.12,47.35" fill="url(#g336)" stroke="url(#g336)"/><polygon points="364.80,160.35 395.00,157.58 417.34,129.74" fill="url(#g337)" stroke="url(#g337)"/><polygon points="364.80,160.35 417.34,129.74 387.04,131.96" fill="url(#g338)" stroke="url(#g338)"/><polygon points="387.04,131.96 417.34,129.74 439.69,101.91" fill="url(#g339)" stroke="url(#g339)"/><polygon points="387.04,131.96 439.69,101.91 409.27,103.58" fill="url(#g340)" stroke="url(#g340)"/><polygon points="409.27,103.58 439.69,101.91 462.03,74.08" fill="url(#g341)" stroke="url(#g341)"/><polygon points="409.27,103.58 462.03,74.08 431.51,75.19" fill="url(#g342)" stroke="url(#g342)"/><polygon points="431.51,75.19 462.03,74.08 484.38,46.25" fill="url(#g343)" stroke="url(#g343)"/><polygon points="431.51,75.19 484.38,46.25 453.75,46.80" fill="url(#g344)" stroke="url(#g344)"/><polygon points="395.00,157.58 425.20,154.80 447.65,127.53" fill="url(#g345)" stroke="url(#g345)"/><polygon points="395.00,157.58 447.65,127.53 417.34,129.74" fill="url(#g346)" stroke="url(#g346)"/><polygon points="417.34,129.74 447.65,127.53 470.10,100.25" fill="url(#g347)" stroke="url(#g347)"/><polygon points="417.34,129.74 470.10,100.25 439.69,101.91" fill="url(#g348)" stroke="url(#g348)"/><polygon points="439.69,101.91 470.10,100.25 492.55,72.98" fill="url(#g349)" stroke="url(#g349)"/><polygon points="439.69,101.91 492.55,72.98 462.03,74.08" fill="url(#g350)" stroke="url(#g350)"/><polygon points="462.03,74.08 492.55,72.98 515.00,45.70" fill="url(#g351)" stroke="url(#g351)"/><polygon points="462.03,74.08 515.00,45.70 484.38,46.25" fill="url(#g352)" stroke="url(#g352)"/><polygon points="425.20,154.80 456.38,149.18 478.66,122.42" fill="url(#g353)" stroke="url(#g353)"/><polygon points="425.20,154.80 478.66,122.42 447.65,127.53" fill="url(#g354)" stroke="url(#g354)"/><polygon points="447.65,127.53 478.66,122.42 500.94,95.66" fill="url(#g355)" stroke="url(#g355)"/><polygon points="447.65,127.53 500.94,95.66 470.10,100.25" fill="url(#g356)" stroke="url(#g356)"/><polygon points="470.10,100.25 500.94,95.66 523.22,68.91" fill="url(#g357)" stroke="url(#g357)"/><polygon points="470.10,100.25 523.22,68.91 492.55,72.98" fill="url(#g358)" stroke="url(#g358)"/><polygon points="492.55,72.98 523.22,68.91 545.50,42.15" fill="url(#g359)" stroke="url(#g359)"/><polygon points="492.55,72.98 545.50,42.15 515.00,45.70" fill="url(#g360)" stroke="url(#g360)"/><polygon points="456.38,149.18 487.55,143.55 509.66,117.31" fill="url(#g361)" stroke="url(#g361)"/><polygon points="456.38,149.18 509.66,117.31 478.66,122.42" fill="url(#g362)" stroke="url(#g362)"/><polygon points="478.66,122.42 509.66,117.31 531.77,91.08" fill="url(#g363)" stroke="url(#g363)"/><polygon points="478.66,122.42 531.77,91.08 500.94,95.66" fill="url(#g364)" stroke="url(#g364)"/><polygon points="500.94,95.66 531.77,91.08 553.89,64.84" fill="url(#g365)" stroke="url(#g365)"/><polygon points="500.94,95.66 553.89,64.84 523.22,68.91" fill="url(#g366)" stroke="url(#g366)"/><polygon points="523.22,68.91 553.89,64.84 576.00,38.60" fill="url(#g367)" stroke="url(#g367)"/><polygon points="523.22,68.91 576.00,38.60 545.50,42.15" fill="url(#g368)" stroke="url(#g368)"/><polygon points="487.55,143.55 518.72,137.93 540.67,112.21" fill="url(#g369)" stroke="url(#g369)"/><polygon points="487.55,143.55 540.67,112.21 509.66,117.31" fill="url(#g370)" stroke="url(#g370)"/><polygon points="509.66,117.31 540.67,112.21 562.61,86.49" fill="url(#g371)" stroke="url(#g371)"/><polygon points="509.66,117.31 562.61,86.49 531.77,91.08" fill="url(#g372)" stroke="url(#g372)"/><polygon points="531.77,91.08 562.61,86.49 584.56,60.77" fill="url(#g373)" stroke="url(#g373)"/><polygon points="531.77,91.08 584.56,60.77 553.89,64.84" fill="url(#g374)" stroke="url(#g374)"/><polygon points="553.89,64.84 584.56,60.77 606.50,35.05" fill="url(#g375)" stroke="url(#g375)"/><polygon points="553.89,64.84 606.50,35.05 576.00,38.60" fill="url(#g376)" stroke="url(#g376)"/><polygon points="518.72,137.93 549.90,132.30 571.67,107.10" fill="url(#g377)" stroke="url(#g377)"/><polygon points="518.72,137.93 571.67,107.10 540.67,112.21" fill="url(#g378)" stroke="url(#g378)"/><polygon points="540.67,112.21 571.67,107.10 593.45,81.90" fill="url(#g379)" stroke="url(#g379)"/><polygon points="540.67,112.21 593.45,81.90 562.61,86.49" fill="url(#g380)" stroke="url(#g380)"/><polygon points="562.61,86.49 593.45,81.90 615.23,56.70" fill="url(#g381)" stroke="url(#g381)"/><polygon points="562.61,86.49 615.23,56.70 584.56,60.77" fill="url(#g382)" stroke="url(#g382)"/><polygon points="584.56,60.77 615.23,56.70 637.00,31.50" fill="url(#g383)" stroke="url(#g383)"/><polygon points="584.56,60.77 637.00,31.50 606.50,35.05" fill="url(#g384)" stroke="url(#g384)"/><polygon points="549.90,132.30 580.42,124.53 602.17,100.80" fill="url(#g385)" stroke="url(#g385)"/><polygon points="549.90,132.30 602.17,100.80 571.67,107.10" fill="url(#g386)" stroke="url(#g386)"/><polygon points="571.67,107.10 602.17,100.80 623.91,77.08" fill="url(#g387)" stroke="url(#g387)"/><polygon points="571.67,107.10 623.91,77.08 593.45,81.90" fill="url(#g388)" stroke="url(#g388)"/><polygon points="593.45,81.90 623.91,77.08 645.66,53.35" fill="url(#g389)" stroke="url(#g389)"/><polygon points="593.45,81.90 645.66,53.35 615.23,56.70" fill="url(#g390)" stroke="url(#g390)"/><polygon points="615.23,56.70 645.66,53.35 667.40,29.62" fill="url(#g391)" stroke="url(#g391)"/><polygon points="615.23,56.70 667.40,29.62 637.00,31.50" fill="url(#g392)" stroke="url(#g392)"/><polygon points="580.42,124.53 610.95,116.75 632.66,94.50" fill="url(#g393)" stroke="url(#g393)"/><polygon points="580.42,124.53 632.66,94.50 602.17,100.80" fill="url(#g394)" stroke="url(#g394)"/><polygon points="602.17,100.80 632.66,94.50 654.38,72.25" fill="url(#g395)" stroke="url(#g395)"/><polygon points="602.17,100.80 654.38,72.25 623.91,77.08" fill="url(#g396)" stroke="url(#g396)"/><polygon points="623.91,77.08 654.38,72.25 676.09,50.00" fill="url(#g397)" stroke="url(#g397)"/><polygon points="623.91,77.08 676.09,50.00 645.66,53.35" fill="url(#g398)" stroke="url(#g398)"/><polygon points="645.66,53.35 676.09,50.00 697.80,27.75" fill="url(#g399)" stroke="url(#g399)"/><polygon points="645.66,53.35 697.80,27.75 667.40,29.62" fill="url(#g400)" stroke="url(#g400)"/><polygon points="610.95,116.75 641.48,108.98 663.16,88.20" fill="url(#g401)" stroke="url(#g401)"/><polygon points="610.95,116.75 663.16,88.20 632.66,94.50" fill="url(#g402)" stroke="url(#g402)"/><polygon points="632.66,94.50 663.16,88.20 684.84,67.43" fill="url(#g403)" stroke="url(#g403)"/><polygon points="632.66,94.50 684.84,67.43 654.38,72.25" fill="url(#g404)" stroke="url(#g404)"/><polygon points="654.38,72.25 684.84,67.43 706.52,46.65" fill="url(#g405)" stroke="url(#g405)"/><polygon points="654.38,72.25 706.52,46.65 676.09,50.00" fill="url(#g406)" stroke="url(#g406)"/><polygon points="676.09,50.00 706.52,46.65 728.20,25.88" fill="url(#g407)" stroke="url(#g407)"/><polygon points="676.09,50.00 728.20,25.88 697.80,27.75" fill="url(#g408)" stroke="url(#g408)"/><polygon points="641.48,108.98 672.00,101.20 693.65,81.90" fill="url(#g409)" stroke="url(#g409)"/><polygon points="641.48,108.98 693.65,81.90 663.16,88.20" fill="url(#g410)" stroke="url(#g410)"/><polygon points="663.16,88.20 693.65,81.90 715.30,62.60" fill="url(#g411)" stroke="url(#g411)"/><polygon points="663.16,88.20 715.30,62.60 684.84,67.43" fill="url(#g412)" stroke="url(#g412)"/><polygon points="684.84,67.43 715.30,62.60 736.95,43.30" fill="url(#g413)" stroke="url(#g413)"/><polygon points="684.84,67.43 736.95,43.30 706.52,46.65" fill="url(#g414)" stroke="url(#g414)"/><polygon points="706.52,46.65 736.95,43.30 758.60,24.00" fill="url(#g415)" stroke="url(#g415)"/><polygon points="706.52,46.65 758.60,24.00 728.20,25.88" fill="url(#g416)" stroke="url(#g416)"/><polygon points="672.00,101.20 702.55,97.75 724.27,78.10" fill="url(#g417)" stroke="url(#g417)"/><polygon points="672.00,101.20 724.27,78.10 693.65,81.90" fill="url(#g418)" stroke="url(#g418)"/><polygon points="693.65,81.90 724.27,78.10 745.99,58.45" fill="url(#g419)" stroke="url(#g419)"/><polygon points="693.65,81.90 745.99,58.45 715.30,62.60" fill="url(#g420)" stroke="url(#g420)"/><polygon points="715.30,62.60 745.99,58.45 767.71,38.80" fill="url(#g421)" stroke="url(#g421)"/><polygon points="715.30,62.60 767.71,38.80 736.95,43.30" fill="url(#g422)" stroke="url(#g422)"/><polygon points="736.95,43.30 767.71,38.80 789.43,19.15" fill="url(#g423)" stroke="url(#g423)"/><polygon points="736.95,43.30 789.43,19.15 758.60,24.00" fill="url(#g424)" stroke="url(#g424)"/><polygon points="702.55,97.75 733.10,94.30 754.89,74.30" fill="url(#g425)" stroke="url(#g425)"/><polygon points="702.55,97.75 754.89,74.30 724.27,78.10" fill="url(#g426)" stroke="url(#g426)"/><polygon points="724.27,78.10 754.89,74.30 776.67,54.30" fill="url(#g427)" stroke="url(#g427)"/><polygon points="724.27,78.10 776.67,54.30 745.99,58.45" fill="url(#g428)" stroke="url(#g428)"/><polygon points="745.99,58.45 776.67,54.30 798.46,34.30" fill="url(#g429)" stroke="url(#g429)"/><polygon points="745.99,58.45 798.46,34.30 767.71,38.80" fill="url(#g430)" stroke="url(#g430)"/><polygon points="767.71,38.80 798.46,34.30 820.25,14.30" fill="url(#g431)" stroke="url(#g431)"/><polygon points="767.71,38.80 820.25,14.30 789.43,19.15" fill="url(#g432)" stroke="url(#g432)"/><polygon points="733.10,94.30 763.65,90.85 785.51,70.50" fill="url(#g433)" stroke="url(#g433)"/><polygon points="733.10,94.30 785.51,70.50 754.89,74.30" fill="url(#g434)" stroke="url(#g434)"/><polygon points="754.89,74.30 785.51,70.50 807.36,50.15" fill="url(#g435)" stroke="url(#g435)"/><polygon points="754.89,74.30 807.36,50.15 776.67,54.30" fill="url(#g436)" stroke="url(#g436)"/><polygon points="776.67,54.30 807.36,50.15 829.22,29.80" fill="url(#g437)" stroke="url(#g437)"/><polygon points="776.67,54.30 829.22,29.80 798.46,34.30" fill="url(#g438)" stroke="url(#g438)"/><polygon points="798.46,34.30 829.22,29.80 851.07,9.45" fill="url(#g439)" stroke="url(#g439)"/><polygon points="798.46,34.30 851.07,9.45 820.25,14.30" fill="url(#g440)" stroke="url(#g440)"/><polygon points="763.65,90.85 794.20,87.40 816.13,66.70" fill="url(#g441)" stroke="url(#g441)"/><polygon points="763.65,90.85 816.13,66.70 785.51,70.50" fill="url(#g442)" stroke="url(#g442)"/><polygon points="785.51,70.50 816.13,66.70 838.05,46.00" fill="url(#g443)" stroke="url(#g443)"/><polygon points="785.51,70.50 838.05,46.00 807.36,50.15" fill="url(#g444)" stroke="url(#g444)"/><polygon points="807.36,50.15 838.05,46.00 859.97,25.30" fill="url(#g445)" stroke="url(#g445)"/><polygon points="807.36,50.15 859.97,25.30 829.22,29.80" fill="url(#g446)" stroke="url(#g446)"/><polygon points="829.22,29.80 859.97,25.30 881.90,4.60" fill="url(#g447)" stroke="url(#g447)"/><polygon points="829.22,29.80 881.90,4.60 851.07,9.45" fill="url(#g448)" stroke="url(#g448)"/><polygon points="794.20,87.40 824.83,86.58 846.84,65.92" fill="url(#g449)" stroke="url(#g449)"/><polygon points="794.20,87.40 846.84,65.92 816.13,66.70" fill="url(#g450)" stroke="url(#g450)"/><polygon points="816.13,66.70 846.84,65.92 868.86,45.26" fill="url(#g451)" stroke="url(#g451)"/><polygon points="816.13,66.70 868.86,45.26 838.05,46.00" fill="url(#g452)" stroke="url(#g452)"/><polygon points="838.05,46.00 868.86,45.26 890.88,24.61" fill="url(#g453)" stroke="url(#g453)"/><polygon points="838.05,46.00 890.88,24.61 859.97,25.30" fill="url(#g454)" stroke="url(#g454)"/><polygon points="859.97,25.30 890.88,24.61 912.90,3.95" fill="url(#g455)" stroke="url(#g455)"/><polygon points="859.97,25.30 912.90,3.95 881.90,4.60" fill="url(#g456)" stroke="url(#g456)"/><polygon points="824.83,86.58 855.45,85.75 877.56,65.14" fill="url(#g457)" stroke="url(#g457)"/><polygon points="824.83,86.58 877.56,65.14 846.84,65.92" fill="url(#g458)" stroke="url(#g458)"/><polygon points="846.84,65.92 877.56,65.14 899.68,44.52" fill="url(#g459)" stroke="url(#g459)"/><polygon points="846.84,65.92 899.68,44.52 868.86,45.26" fill="url(#g460)" stroke="url(#g460)"/><polygon points="868.86,45.26 899.68,44.52 921.79,23.91" fill="url(#g461)" stroke="url(#g461)"/><polygon points="868.86,45.26 921.79,23.91 890.88,24.61" fill="url(#g462)" stroke="url(#g462)"/><polygon points="890.88,24.61 921.79,23.91 943.90,3.30" fill="url(#g463)" stroke="url(#g463)"/><polygon points="890.88,24.61 943.90,3.30 912.90,3.95" fill="url(#g464)" stroke="url(#g464)"/><polygon points="855.45,85.75 886.08,84.92 908.28,64.36" fill="url(#g465)" stroke="url(#g465)"/><polygon points="855.45,85.75 908.28,64.36 877.56,65.14" fill="url(#g466)" stroke="url(#g466)"/><polygon points="877.56,65.14 908.28,64.36 930.49,43.79" fill="url(#g467)" stroke="url(#g467)"/><polygon points="877.56,65.14 930.49,43.79 899.68,44.52" fill="url(#g468)" stroke="url(#g468)"/><polygon points="899.68,44.52 930.49,43.79 952.69,23.22" fill="url(#g469)" stroke="url(#g469)"/><polygon points="899.68,44.52 952.69,23.22 921.79,23.91" fill="url(#g470)" stroke="url(#g470)"/><polygon points="921.79,23.91 952.69,23.22 974.90,2.65" fill="url(#g471)" stroke="url(#g471)"/><polygon points="921.79,23.91 974.90,2.65 943.90,3.30" fill="url(#g472)" stroke="url(#g472)"/><polygon points="886.08,84.92 916.70,84.10 939.00,63.57" fill="url(#g473)" stroke="url(#g473)"/><polygon points="886.08,84.92 939.00,63.57 908.28,64.36" fill="url(#g474)" stroke="url(#g474)"/><polygon points="908.28,64.36 939.00,63.57 961.30,43.05" fill="url(#g475)" stroke="url(#g475)"/><polygon points="908.28,64.36 961.30,43.05 930.49,43.79" fill="url(#g476)" stroke="url(#g476)"/><polygon points="930.49,43.79 961.30,43.05 983.60,22.52" fill="url(#g477)" stroke="url(#g477)"/><polygon points="930.49,43.79 983.60,22.52 952.69,23.22" fill="url(#g478)" stroke="url(#g478)"/><polygon points="952.69,23.22 983.60,22.52 1005.90,2.00" fill="url(#g479)" stroke="url(#g479)"/><polygon points="952.69,23.22 1005.90,2.00 974.90,2.65" fill="url(#g480)" stroke="url(#g480)"/></g>
<path d="M126.40 392.70 L249.70 346.50 L373.00 332.40 L495.60 287.30 L618.60 271.50 L741.70 256.20 M216.30 262.50 L337.80 217.30 L461.70 210.80 L584.30 210.20 L705.80 169.00 L829.00 148.20 M304.40 165.90 L425.20 154.80 L549.90 132.30 L672.00 101.20 L794.20 87.40 L916.70 84.10 M392.50 47.90 L515.00 45.70 L637.00 31.50 L758.60 24.00 L881.90 4.60 L1005.90 2.00 M126.40 392.70 L216.30 262.50 L304.40 165.90 L392.50 47.90 M249.70 346.50 L337.80 217.30 L425.20 154.80 L515.00 45.70 M373.00 332.40 L461.70 210.80 L549.90 132.30 L637.00 31.50 M495.60 287.30 L584.30 210.20 L672.00 101.20 L758.60 24.00 M618.60 271.50 L705.80 169.00 L794.20 87.40 L881.90 4.60 M741.70 256.20 L829.00 148.20 L916.70 84.10 L1005.90 2.00" fill="none" stroke="#1a1a1a" stroke-dasharray="4.6 2.9 1.0 2.9" opacity="0.85" stroke-width="1.05"/>
<g fill="#1e1e1e">
<text x="100.80" y="407.05" font-size="36.00" text-anchor="end">88</text>
<text x="100.80" y="311.15" font-size="36.00" text-anchor="end">90</text>
<text x="100.80" y="215.25" font-size="36.00" text-anchor="end">92</text>
<text x="100.80" y="119.35" font-size="36.00" text-anchor="end">94</text>
<text x="60.15" y="485.10" font-size="36.00">1200</text>
<text x="159.55" y="493.60" font-size="36.00">1440</text>
<text x="278.45" y="500.00" font-size="36.00">1680</text>
<text x="402.05" y="508.60" font-size="36.00">1920</text>
<text x="528.98" y="513.20" font-size="36.00">2160</text>
<text x="644.58" y="518.40" font-size="36.00">2400</text>
<text x="765.97" y="512.00" font-size="36.00">6</text>
<text x="854.03" y="486.20" font-size="36.00">9</text>
<text x="944.05" y="458.40" font-size="36.00">12</text>
<text x="1032.25" y="430.60" font-size="36.00">15</text>
<text x="0.00" y="0.00" font-size="45.50" transform="translate(152.3 544.1) rotate(3.9)">Number of images</text>
<text x="0.00" y="0.00" font-size="45.50" transform="translate(712.5 595.6) rotate(-18.9)">Duration of segments (sec)</text>
<text x="0.00" y="0.00" font-size="45.50" transform="translate(32.6 461.2) rotate(-90)">Prediction accuracy (%)</text>
</g>
<text x="558.00" y="645.50" font-size="46.30">(a)</text>
<g fill="none" stroke="#4472c4" stroke-width="1.8">
<polygon points="443.20,980.10 512.31,1020.00 512.31,1099.80 443.20,1139.70 374.09,1099.80 374.09,1020.00"/>
<polygon points="443.20,900.30 581.42,980.10 581.42,1139.70 443.20,1219.50 304.98,1139.70 304.98,980.10"/>
<polygon points="443.20,820.50 650.53,940.20 650.53,1179.60 443.20,1299.30 235.87,1179.60 235.87,940.20"/>
</g>
<g stroke="#000" stroke-width="2.6">
<line x1="443.20" y1="1059.90" x2="443.20" y2="767.70"/>
<line x1="443.20" y1="1059.90" x2="696.25" y2="913.80"/>
<line x1="443.20" y1="1059.90" x2="696.25" y2="1206.00"/>
<line x1="443.20" y1="1059.90" x2="443.20" y2="1352.10"/>
<line x1="443.20" y1="1059.90" x2="190.15" y2="1206.00"/>
<line x1="443.20" y1="1059.90" x2="190.15" y2="913.80"/>
</g>
<g filter="url(#sh)"><polygon points="443.20,883.60 585.13,977.96 574.13,1135.50 443.20,1182.14 347.51,1115.15 373.11,1019.43" fill="none" stroke="#ed7d31" stroke-width="9" stroke-linejoin="round"/><circle cx="443.20" cy="883.60" r="10.1" fill="#ed7d31"/><circle cx="443.20" cy="883.60" r="10.1" fill="url(#hl)"/><circle cx="585.13" cy="977.96" r="10.1" fill="#ed7d31"/><circle cx="585.13" cy="977.96" r="10.1" fill="url(#hl)"/><circle cx="574.13" cy="1135.50" r="10.1" fill="#ed7d31"/><circle cx="574.13" cy="1135.50" r="10.1" fill="url(#hl)"/><circle cx="443.20" cy="1182.14" r="10.1" fill="#ed7d31"/><circle cx="443.20" cy="1182.14" r="10.1" fill="url(#hl)"/><circle cx="347.51" cy="1115.15" r="10.1" fill="#ed7d31"/><circle cx="347.51" cy="1115.15" r="10.1" fill="url(#hl)"/><circle cx="373.11" cy="1019.43" r="10.1" fill="#ed7d31"/><circle cx="373.11" cy="1019.43" r="10.1" fill="url(#hl)"/></g>
<g filter="url(#sh)"><polygon points="443.20,838.58 621.48,956.97 598.28,1149.44 443.20,1234.71 298.33,1143.54 323.45,990.76" fill="none" stroke="#ffc000" stroke-width="9" stroke-linejoin="round"/><circle cx="443.20" cy="838.58" r="10.1" fill="#ffc000"/><circle cx="443.20" cy="838.58" r="10.1" fill="url(#hl)"/><circle cx="621.48" cy="956.97" r="10.1" fill="#ffc000"/><circle cx="621.48" cy="956.97" r="10.1" fill="url(#hl)"/><circle cx="598.28" cy="1149.44" r="10.1" fill="#ffc000"/><circle cx="598.28" cy="1149.44" r="10.1" fill="url(#hl)"/><circle cx="443.20" cy="1234.71" r="10.1" fill="#ffc000"/><circle cx="443.20" cy="1234.71" r="10.1" fill="url(#hl)"/><circle cx="298.33" cy="1143.54" r="10.1" fill="#ffc000"/><circle cx="298.33" cy="1143.54" r="10.1" fill="url(#hl)"/><circle cx="323.45" cy="990.76" r="10.1" fill="#ffc000"/><circle cx="323.45" cy="990.76" r="10.1" fill="url(#hl)"/></g>
<g filter="url(#sh)"><polygon points="443.20,817.90 647.79,941.78 637.76,1172.23 443.20,1263.38 281.20,1153.43 289.93,971.41" fill="none" stroke="#70ad47" stroke-width="9" stroke-linejoin="round"/><circle cx="443.20" cy="817.90" r="10.1" fill="#70ad47"/><circle cx="443.20" cy="817.90" r="10.1" fill="url(#hl)"/><circle cx="647.79" cy="941.78" r="10.1" fill="#70ad47"/><circle cx="647.79" cy="941.78" r="10.1" fill="url(#hl)"/><circle cx="637.76" cy="1172.23" r="10.1" fill="#70ad47"/><circle cx="637.76" cy="1172.23" r="10.1" fill="url(#hl)"/><circle cx="443.20" cy="1263.38" r="10.1" fill="#70ad47"/><circle cx="443.20" cy="1263.38" r="10.1" fill="url(#hl)"/><circle cx="281.20" cy="1153.43" r="10.1" fill="#70ad47"/><circle cx="281.20" cy="1153.43" r="10.1" fill="url(#hl)"/><circle cx="289.93" cy="971.41" r="10.1" fill="#70ad47"/><circle cx="289.93" cy="971.41" r="10.1" fill="url(#hl)"/></g>
<g filter="url(#sh)"><polygon points="443.20,787.24 674.68,926.26 661.96,1186.20 443.20,1304.41 241.67,1176.25 246.13,946.12" fill="none" stroke="#9e480e" stroke-width="9" stroke-linejoin="round"/><circle cx="443.20" cy="787.24" r="10.1" fill="#9e480e"/><circle cx="443.20" cy="787.24" r="10.1" fill="url(#hl)"/><circle cx="674.68" cy="926.26" r="10.1" fill="#9e480e"/><circle cx="674.68" cy="926.26" r="10.1" fill="url(#hl)"/><circle cx="661.96" cy="1186.20" r="10.1" fill="#9e480e"/><circle cx="661.96" cy="1186.20" r="10.1" fill="url(#hl)"/><circle cx="443.20" cy="1304.41" r="10.1" fill="#9e480e"/><circle cx="443.20" cy="1304.41" r="10.1" fill="url(#hl)"/><circle cx="241.67" cy="1176.25" r="10.1" fill="#9e480e"/><circle cx="241.67" cy="1176.25" r="10.1" fill="url(#hl)"/><circle cx="246.13" cy="946.12" r="10.1" fill="#9e480e"/><circle cx="246.13" cy="946.12" r="10.1" fill="url(#hl)"/></g>
<text x="397.50" y="1072.90" font-size="38.50" text-anchor="end">85</text>
<text x="397.50" y="993.10" font-size="38.50" text-anchor="end">88</text>
<text x="397.50" y="913.30" font-size="38.50" text-anchor="end">91</text>
<text x="397.50" y="833.50" font-size="38.50" text-anchor="end">94</text>
<text x="399.91" y="763.20" font-size="42.00">2400</text>
<text x="696.91" y="911.20" font-size="42.00">2160</text>
<text x="699.53" y="1232.80" font-size="42.00">1920</text>
<text x="403.32" y="1394.10" font-size="42.00">1680</text>
<text x="108.33" y="921.00" font-size="42.00">1200</text>
<text x="112.42" y="1236.60" font-size="42.00">1440</text>
<rect x="855.4" y="913.3" width="283.2" height="287.9" fill="#fff" stroke="#000" stroke-width="2"/>
<line x1="873.7" y1="950.35" x2="929.9" y2="950.35" stroke="#ed7d31" stroke-width="8.8" stroke-linecap="round"/>
<circle cx="901.5" cy="951.05" r="10.4" fill="#ed7d31"/><circle cx="901.5" cy="951.05" r="10.4" fill="url(#hl)"/>
<text x="937.30" y="962.60" font-size="42.00">6 seconds</text>
<line x1="873.7" y1="1021.65" x2="929.9" y2="1021.65" stroke="#ffc000" stroke-width="8.8" stroke-linecap="round"/>
<circle cx="901.5" cy="1022.35" r="10.4" fill="#ffc000"/><circle cx="901.5" cy="1022.35" r="10.4" fill="url(#hl)"/>
<text x="937.30" y="1033.90" font-size="42.00">9 seconds</text>
<line x1="873.7" y1="1092.95" x2="929.9" y2="1092.95" stroke="#70ad47" stroke-width="8.8" stroke-linecap="round"/>
<circle cx="901.5" cy="1093.65" r="10.4" fill="#70ad47"/><circle cx="901.5" cy="1093.65" r="10.4" fill="url(#hl)"/>
<text x="937.30" y="1105.20" font-size="42.00">12 seconds</text>
<line x1="873.7" y1="1164.25" x2="929.9" y2="1164.25" stroke="#9e480e" stroke-width="8.8" stroke-linecap="round"/>
<circle cx="901.5" cy="1164.95" r="10.4" fill="#9e480e"/><circle cx="901.5" cy="1164.95" r="10.4" fill="url(#hl)"/>
<text x="937.30" y="1176.50" font-size="42.00">15 seconds</text>
<text x="556.50" y="1459.50" font-size="46.30">(b)</text>
</svg></body></html>
